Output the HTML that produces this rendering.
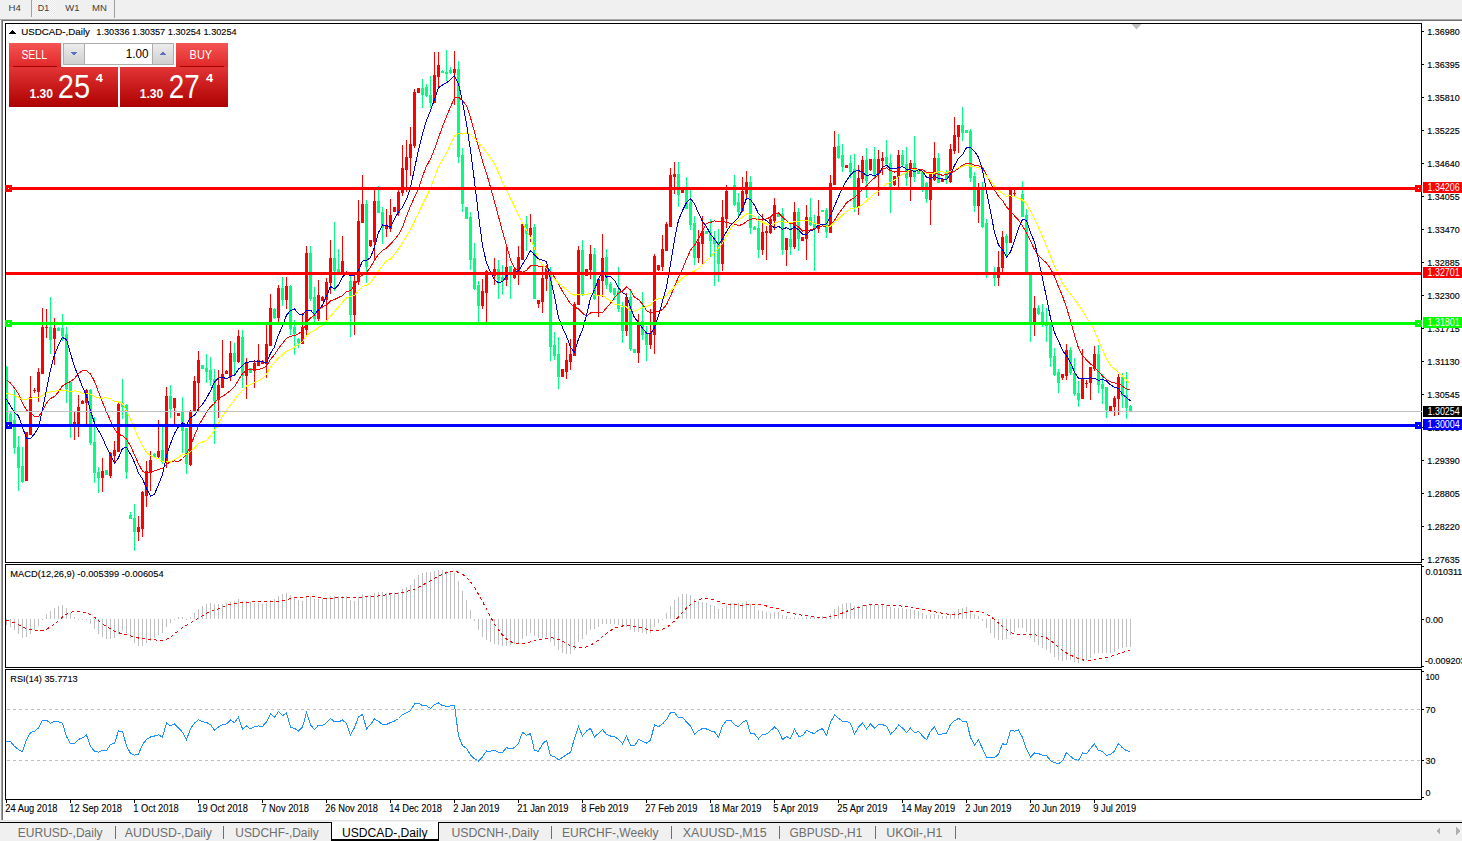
<!DOCTYPE html>
<html><head><meta charset="utf-8"><style>
html,body{margin:0;padding:0;background:#fff;width:1462px;height:841px;overflow:hidden}
svg{display:block}
text{font-family:"Liberation Sans",sans-serif}
</style></head><body>
<svg width="1462" height="841" viewBox="0 0 1462 841" shape-rendering="crispEdges">
<defs>
<clipPath id="clipmain"><rect x="6" y="24" width="1415" height="538"/></clipPath>
<clipPath id="clipmacd"><rect x="6" y="565" width="1415" height="102"/></clipPath>
<clipPath id="cliprsi"><rect x="6" y="670" width="1415" height="129"/></clipPath>
<pattern id="chk" width="2" height="2" patternUnits="userSpaceOnUse"><rect width="2" height="2" fill="#fafafa"/><rect width="1" height="1" fill="#e8e8e8"/><rect x="1" y="1" width="1" height="1" fill="#e8e8e8"/></pattern>
<linearGradient id="gsell" x1="0" y1="0" x2="0" y2="1"><stop offset="0" stop-color="#f65454"/><stop offset="1" stop-color="#e02828"/></linearGradient>
<linearGradient id="gbig" x1="0" y1="0" x2="0" y2="1"><stop offset="0" stop-color="#e33535"/><stop offset="1" stop-color="#ad0000"/></linearGradient>
<linearGradient id="gbtn" x1="0" y1="0" x2="0" y2="1"><stop offset="0" stop-color="#ececec"/><stop offset="1" stop-color="#cfcfcf"/></linearGradient>
</defs>
<rect x="0" y="0" width="1462" height="19" fill="#f0f0f0"/>
<rect x="32" y="0" width="24" height="17" fill="url(#chk)"/>
<rect x="31" y="0" width="1" height="17" fill="#a0a0a0"/>
<rect x="114" y="0" width="1" height="18" fill="#a0a0a0"/>
<text x="8.6" y="10.9" style="font-size:9.6px;fill:#3c3c3c" textLength="12.30" lengthAdjust="spacingAndGlyphs" >H4</text>
<text x="37.7" y="10.9" style="font-size:9.6px;fill:#3c3c3c" textLength="11.40" lengthAdjust="spacingAndGlyphs" >D1</text>
<text x="65.3" y="10.9" style="font-size:9.6px;fill:#3c3c3c" textLength="14.20" lengthAdjust="spacingAndGlyphs" >W1</text>
<text x="92" y="10.9" style="font-size:9.6px;fill:#3c3c3c" textLength="14.80" lengthAdjust="spacingAndGlyphs" >MN</text>
<rect x="0" y="19" width="1462" height="1" fill="#a8a8a8"/>
<rect x="0" y="20" width="1462" height="1" fill="#707070"/>
<rect x="0" y="20" width="1" height="801" fill="#f4f4f4"/>
<rect x="1" y="20" width="1" height="801" fill="#a0a0a0"/>
<rect x="2" y="20" width="1" height="801" fill="#6e6e6e"/>
<rect x="5.5" y="23.5" width="1416" height="539" fill="none" stroke="#000" stroke-width="1"/>
<rect x="5.5" y="564.5" width="1416" height="103" fill="none" stroke="#000" stroke-width="1"/>
<rect x="5.5" y="669.5" width="1416" height="130" fill="none" stroke="#000" stroke-width="1"/>
<rect x="1422" y="31" width="2" height="1" fill="#000"/>
<text x="1427.3" y="35" style="font-size:9.4px;fill:#000;stroke:#000;stroke-width:0.15px" textLength="32.40" lengthAdjust="spacingAndGlyphs" >1.36980</text>
<rect x="1422" y="64" width="2" height="1" fill="#000"/>
<text x="1427.3" y="68" style="font-size:9.4px;fill:#000;stroke:#000;stroke-width:0.15px" textLength="32.40" lengthAdjust="spacingAndGlyphs" >1.36395</text>
<rect x="1422" y="97" width="2" height="1" fill="#000"/>
<text x="1427.3" y="101" style="font-size:9.4px;fill:#000;stroke:#000;stroke-width:0.15px" textLength="32.40" lengthAdjust="spacingAndGlyphs" >1.35810</text>
<rect x="1422" y="130" width="2" height="1" fill="#000"/>
<text x="1427.3" y="134" style="font-size:9.4px;fill:#000;stroke:#000;stroke-width:0.15px" textLength="32.40" lengthAdjust="spacingAndGlyphs" >1.35225</text>
<rect x="1422" y="163" width="2" height="1" fill="#000"/>
<text x="1427.3" y="167" style="font-size:9.4px;fill:#000;stroke:#000;stroke-width:0.15px" textLength="32.40" lengthAdjust="spacingAndGlyphs" >1.34640</text>
<rect x="1422" y="196" width="2" height="1" fill="#000"/>
<text x="1427.3" y="200" style="font-size:9.4px;fill:#000;stroke:#000;stroke-width:0.15px" textLength="32.40" lengthAdjust="spacingAndGlyphs" >1.34055</text>
<rect x="1422" y="229" width="2" height="1" fill="#000"/>
<text x="1427.3" y="233" style="font-size:9.4px;fill:#000;stroke:#000;stroke-width:0.15px" textLength="32.40" lengthAdjust="spacingAndGlyphs" >1.33470</text>
<rect x="1422" y="262" width="2" height="1" fill="#000"/>
<text x="1427.3" y="266" style="font-size:9.4px;fill:#000;stroke:#000;stroke-width:0.15px" textLength="32.40" lengthAdjust="spacingAndGlyphs" >1.32885</text>
<rect x="1422" y="295" width="2" height="1" fill="#000"/>
<text x="1427.3" y="299" style="font-size:9.4px;fill:#000;stroke:#000;stroke-width:0.15px" textLength="32.40" lengthAdjust="spacingAndGlyphs" >1.32300</text>
<rect x="1422" y="328" width="2" height="1" fill="#000"/>
<text x="1427.3" y="332" style="font-size:9.4px;fill:#000;stroke:#000;stroke-width:0.15px" textLength="32.40" lengthAdjust="spacingAndGlyphs" >1.31715</text>
<rect x="1422" y="361" width="2" height="1" fill="#000"/>
<text x="1427.3" y="365" style="font-size:9.4px;fill:#000;stroke:#000;stroke-width:0.15px" textLength="32.40" lengthAdjust="spacingAndGlyphs" >1.31130</text>
<rect x="1422" y="394" width="2" height="1" fill="#000"/>
<text x="1427.3" y="398" style="font-size:9.4px;fill:#000;stroke:#000;stroke-width:0.15px" textLength="32.40" lengthAdjust="spacingAndGlyphs" >1.30545</text>
<rect x="1422" y="427" width="2" height="1" fill="#000"/>
<text x="1427.3" y="431" style="font-size:9.4px;fill:#000;stroke:#000;stroke-width:0.15px" textLength="32.40" lengthAdjust="spacingAndGlyphs" >1.29960</text>
<rect x="1422" y="460" width="2" height="1" fill="#000"/>
<text x="1427.3" y="464" style="font-size:9.4px;fill:#000;stroke:#000;stroke-width:0.15px" textLength="32.40" lengthAdjust="spacingAndGlyphs" >1.29390</text>
<rect x="1422" y="493" width="2" height="1" fill="#000"/>
<text x="1427.3" y="497" style="font-size:9.4px;fill:#000;stroke:#000;stroke-width:0.15px" textLength="32.40" lengthAdjust="spacingAndGlyphs" >1.28805</text>
<rect x="1422" y="526" width="2" height="1" fill="#000"/>
<text x="1427.3" y="530" style="font-size:9.4px;fill:#000;stroke:#000;stroke-width:0.15px" textLength="32.40" lengthAdjust="spacingAndGlyphs" >1.28220</text>
<rect x="1422" y="559" width="2" height="1" fill="#000"/>
<text x="1427.3" y="563" style="font-size:9.4px;fill:#000;stroke:#000;stroke-width:0.15px" textLength="32.40" lengthAdjust="spacingAndGlyphs" >1.27635</text>
<g clip-path="url(#clipmain)">
<rect x="6" y="366" width="1" height="56" fill="#00ff7f"/>
<rect x="5" y="367" width="3" height="54" fill="#00ff7f"/>
<rect x="10" y="412" width="1" height="12" fill="#00ff7f"/>
<rect x="9" y="414" width="3" height="8" fill="#00ff7f"/>
<rect x="14" y="390" width="1" height="64" fill="#00ff7f"/>
<rect x="13" y="420" width="3" height="28" fill="#00ff7f"/>
<rect x="18" y="436" width="1" height="55" fill="#00ff7f"/>
<rect x="17" y="447" width="3" height="21" fill="#00ff7f"/>
<rect x="22" y="447" width="1" height="36" fill="#00ff7f"/>
<rect x="21" y="466" width="3" height="16" fill="#00ff7f"/>
<rect x="26" y="432" width="1" height="49" fill="#ff0000"/>
<rect x="25" y="432" width="3" height="49" fill="#ff0000"/>
<rect x="30" y="376" width="1" height="59" fill="#ff0000"/>
<rect x="29" y="397" width="3" height="38" fill="#ff0000"/>
<rect x="34" y="388" width="1" height="5" fill="#ff0000"/>
<rect x="33" y="390" width="3" height="1" fill="#ff0000"/>
<rect x="38" y="368" width="1" height="34" fill="#ff0000"/>
<rect x="37" y="372" width="3" height="20" fill="#ff0000"/>
<rect x="42" y="308" width="1" height="66" fill="#ff0000"/>
<rect x="41" y="327" width="3" height="47" fill="#ff0000"/>
<rect x="46" y="309" width="1" height="29" fill="#ff0000"/>
<rect x="45" y="327" width="3" height="1" fill="#ff0000"/>
<rect x="50" y="297" width="1" height="57" fill="#00ff7f"/>
<rect x="49" y="327" width="3" height="13" fill="#00ff7f"/>
<rect x="54" y="318" width="1" height="47" fill="#ff0000"/>
<rect x="53" y="328" width="3" height="11" fill="#ff0000"/>
<rect x="58" y="327" width="1" height="4" fill="#00ff7f"/>
<rect x="57" y="328" width="3" height="3" fill="#00ff7f"/>
<rect x="62" y="314" width="1" height="27" fill="#00ff7f"/>
<rect x="61" y="328" width="3" height="8" fill="#00ff7f"/>
<rect x="66" y="327" width="1" height="76" fill="#00ff7f"/>
<rect x="65" y="334" width="3" height="55" fill="#00ff7f"/>
<rect x="70" y="382" width="1" height="56" fill="#00ff7f"/>
<rect x="69" y="382" width="3" height="42" fill="#00ff7f"/>
<rect x="74" y="411" width="1" height="29" fill="#ff0000"/>
<rect x="73" y="422" width="3" height="3" fill="#ff0000"/>
<rect x="78" y="395" width="1" height="42" fill="#ff0000"/>
<rect x="77" y="407" width="3" height="17" fill="#ff0000"/>
<rect x="82" y="400" width="1" height="4" fill="#ff0000"/>
<rect x="81" y="401" width="3" height="3" fill="#ff0000"/>
<rect x="86" y="389" width="1" height="35" fill="#ff0000"/>
<rect x="85" y="390" width="3" height="13" fill="#ff0000"/>
<rect x="90" y="389" width="1" height="56" fill="#00ff7f"/>
<rect x="89" y="390" width="3" height="53" fill="#00ff7f"/>
<rect x="94" y="417" width="1" height="66" fill="#00ff7f"/>
<rect x="93" y="442" width="3" height="31" fill="#00ff7f"/>
<rect x="98" y="467" width="1" height="26" fill="#00ff7f"/>
<rect x="97" y="472" width="3" height="6" fill="#00ff7f"/>
<rect x="102" y="458" width="1" height="34" fill="#ff0000"/>
<rect x="101" y="471" width="3" height="7" fill="#ff0000"/>
<rect x="106" y="470" width="1" height="5" fill="#00ff7f"/>
<rect x="105" y="470" width="3" height="5" fill="#00ff7f"/>
<rect x="110" y="452" width="1" height="26" fill="#ff0000"/>
<rect x="109" y="453" width="3" height="23" fill="#ff0000"/>
<rect x="114" y="441" width="1" height="23" fill="#ff0000"/>
<rect x="113" y="450" width="3" height="6" fill="#ff0000"/>
<rect x="118" y="403" width="1" height="49" fill="#ff0000"/>
<rect x="117" y="404" width="3" height="48" fill="#ff0000"/>
<rect x="122" y="379" width="1" height="40" fill="#00ff7f"/>
<rect x="121" y="403" width="3" height="4" fill="#00ff7f"/>
<rect x="126" y="404" width="1" height="75" fill="#00ff7f"/>
<rect x="125" y="405" width="3" height="67" fill="#00ff7f"/>
<rect x="130" y="512" width="1" height="7" fill="#00ff7f"/>
<rect x="129" y="515" width="3" height="4" fill="#00ff7f"/>
<rect x="134" y="504" width="1" height="47" fill="#00ff7f"/>
<rect x="133" y="518" width="3" height="14" fill="#00ff7f"/>
<rect x="138" y="516" width="1" height="25" fill="#ff0000"/>
<rect x="137" y="527" width="3" height="5" fill="#ff0000"/>
<rect x="142" y="491" width="1" height="46" fill="#ff0000"/>
<rect x="141" y="492" width="3" height="37" fill="#ff0000"/>
<rect x="146" y="461" width="1" height="46" fill="#ff0000"/>
<rect x="145" y="471" width="3" height="25" fill="#ff0000"/>
<rect x="150" y="451" width="1" height="40" fill="#ff0000"/>
<rect x="149" y="460" width="3" height="13" fill="#ff0000"/>
<rect x="154" y="453" width="1" height="4" fill="#00ff7f"/>
<rect x="153" y="454" width="3" height="3" fill="#00ff7f"/>
<rect x="158" y="420" width="1" height="39" fill="#ff0000"/>
<rect x="157" y="451" width="3" height="6" fill="#ff0000"/>
<rect x="162" y="427" width="1" height="37" fill="#00ff7f"/>
<rect x="161" y="450" width="3" height="12" fill="#00ff7f"/>
<rect x="166" y="387" width="1" height="81" fill="#ff0000"/>
<rect x="165" y="396" width="3" height="66" fill="#ff0000"/>
<rect x="170" y="385" width="1" height="33" fill="#00ff7f"/>
<rect x="169" y="396" width="3" height="13" fill="#00ff7f"/>
<rect x="174" y="398" width="1" height="26" fill="#ff0000"/>
<rect x="173" y="398" width="3" height="10" fill="#ff0000"/>
<rect x="178" y="413" width="1" height="3" fill="#ff0000"/>
<rect x="177" y="413" width="3" height="3" fill="#ff0000"/>
<rect x="182" y="397" width="1" height="56" fill="#00ff7f"/>
<rect x="181" y="412" width="3" height="19" fill="#00ff7f"/>
<rect x="186" y="428" width="1" height="46" fill="#00ff7f"/>
<rect x="185" y="428" width="3" height="36" fill="#00ff7f"/>
<rect x="190" y="410" width="1" height="56" fill="#ff0000"/>
<rect x="189" y="411" width="3" height="54" fill="#ff0000"/>
<rect x="194" y="376" width="1" height="36" fill="#ff0000"/>
<rect x="193" y="381" width="3" height="30" fill="#ff0000"/>
<rect x="198" y="351" width="1" height="60" fill="#ff0000"/>
<rect x="197" y="360" width="3" height="23" fill="#ff0000"/>
<rect x="202" y="365" width="1" height="4" fill="#00ff7f"/>
<rect x="201" y="365" width="3" height="4" fill="#00ff7f"/>
<rect x="206" y="354" width="1" height="29" fill="#00ff7f"/>
<rect x="205" y="368" width="3" height="4" fill="#00ff7f"/>
<rect x="210" y="357" width="1" height="29" fill="#00ff7f"/>
<rect x="209" y="370" width="3" height="10" fill="#00ff7f"/>
<rect x="214" y="369" width="1" height="75" fill="#00ff7f"/>
<rect x="213" y="379" width="3" height="22" fill="#00ff7f"/>
<rect x="218" y="370" width="1" height="48" fill="#ff0000"/>
<rect x="217" y="385" width="3" height="15" fill="#ff0000"/>
<rect x="222" y="340" width="1" height="48" fill="#ff0000"/>
<rect x="221" y="374" width="3" height="14" fill="#ff0000"/>
<rect x="226" y="370" width="1" height="4" fill="#ff0000"/>
<rect x="225" y="371" width="3" height="3" fill="#ff0000"/>
<rect x="230" y="341" width="1" height="40" fill="#ff0000"/>
<rect x="229" y="353" width="3" height="24" fill="#ff0000"/>
<rect x="234" y="343" width="1" height="31" fill="#00ff7f"/>
<rect x="233" y="353" width="3" height="9" fill="#00ff7f"/>
<rect x="238" y="330" width="1" height="33" fill="#ff0000"/>
<rect x="237" y="336" width="3" height="26" fill="#ff0000"/>
<rect x="242" y="330" width="1" height="58" fill="#00ff7f"/>
<rect x="241" y="337" width="3" height="39" fill="#00ff7f"/>
<rect x="246" y="358" width="1" height="41" fill="#ff0000"/>
<rect x="245" y="362" width="3" height="14" fill="#ff0000"/>
<rect x="250" y="368" width="1" height="5" fill="#00ff7f"/>
<rect x="249" y="368" width="3" height="5" fill="#00ff7f"/>
<rect x="254" y="360" width="1" height="28" fill="#ff0000"/>
<rect x="253" y="363" width="3" height="8" fill="#ff0000"/>
<rect x="258" y="344" width="1" height="22" fill="#ff0000"/>
<rect x="257" y="360" width="3" height="6" fill="#ff0000"/>
<rect x="262" y="360" width="1" height="4" fill="#ff0000"/>
<rect x="261" y="361" width="3" height="3" fill="#ff0000"/>
<rect x="266" y="325" width="1" height="53" fill="#ff0000"/>
<rect x="265" y="344" width="3" height="20" fill="#ff0000"/>
<rect x="270" y="294" width="1" height="52" fill="#ff0000"/>
<rect x="269" y="308" width="3" height="38" fill="#ff0000"/>
<rect x="274" y="308" width="1" height="11" fill="#00ff7f"/>
<rect x="273" y="309" width="3" height="9" fill="#00ff7f"/>
<rect x="278" y="285" width="1" height="38" fill="#ff0000"/>
<rect x="277" y="288" width="3" height="30" fill="#ff0000"/>
<rect x="282" y="277" width="1" height="29" fill="#00ff7f"/>
<rect x="281" y="288" width="3" height="12" fill="#00ff7f"/>
<rect x="286" y="277" width="1" height="32" fill="#ff0000"/>
<rect x="285" y="286" width="3" height="14" fill="#ff0000"/>
<rect x="290" y="285" width="1" height="50" fill="#00ff7f"/>
<rect x="289" y="286" width="3" height="43" fill="#00ff7f"/>
<rect x="294" y="320" width="1" height="35" fill="#00ff7f"/>
<rect x="293" y="327" width="3" height="7" fill="#00ff7f"/>
<rect x="298" y="338" width="1" height="10" fill="#00ff7f"/>
<rect x="297" y="339" width="3" height="4" fill="#00ff7f"/>
<rect x="302" y="313" width="1" height="31" fill="#ff0000"/>
<rect x="301" y="327" width="3" height="17" fill="#ff0000"/>
<rect x="306" y="246" width="1" height="89" fill="#ff0000"/>
<rect x="305" y="253" width="3" height="77" fill="#ff0000"/>
<rect x="310" y="246" width="1" height="55" fill="#00ff7f"/>
<rect x="309" y="253" width="3" height="46" fill="#00ff7f"/>
<rect x="314" y="287" width="1" height="35" fill="#00ff7f"/>
<rect x="313" y="297" width="3" height="22" fill="#00ff7f"/>
<rect x="318" y="280" width="1" height="41" fill="#ff0000"/>
<rect x="317" y="295" width="3" height="24" fill="#ff0000"/>
<rect x="322" y="296" width="1" height="5" fill="#ff0000"/>
<rect x="321" y="297" width="3" height="4" fill="#ff0000"/>
<rect x="326" y="278" width="1" height="42" fill="#ff0000"/>
<rect x="325" y="282" width="3" height="18" fill="#ff0000"/>
<rect x="330" y="240" width="1" height="54" fill="#ff0000"/>
<rect x="329" y="258" width="3" height="25" fill="#ff0000"/>
<rect x="334" y="222" width="1" height="69" fill="#00ff7f"/>
<rect x="333" y="258" width="3" height="13" fill="#00ff7f"/>
<rect x="338" y="249" width="1" height="24" fill="#00ff7f"/>
<rect x="337" y="269" width="3" height="3" fill="#00ff7f"/>
<rect x="342" y="236" width="1" height="37" fill="#ff0000"/>
<rect x="341" y="261" width="3" height="11" fill="#ff0000"/>
<rect x="346" y="271" width="1" height="3" fill="#ff0000"/>
<rect x="345" y="272" width="3" height="2" fill="#ff0000"/>
<rect x="350" y="275" width="1" height="62" fill="#00ff7f"/>
<rect x="349" y="281" width="3" height="34" fill="#00ff7f"/>
<rect x="354" y="276" width="1" height="59" fill="#ff0000"/>
<rect x="353" y="281" width="3" height="34" fill="#ff0000"/>
<rect x="358" y="200" width="1" height="85" fill="#ff0000"/>
<rect x="357" y="221" width="3" height="61" fill="#ff0000"/>
<rect x="362" y="175" width="1" height="48" fill="#ff0000"/>
<rect x="361" y="204" width="3" height="19" fill="#ff0000"/>
<rect x="366" y="200" width="1" height="83" fill="#00ff7f"/>
<rect x="365" y="204" width="3" height="63" fill="#00ff7f"/>
<rect x="370" y="240" width="1" height="7" fill="#ff0000"/>
<rect x="369" y="240" width="3" height="6" fill="#ff0000"/>
<rect x="374" y="190" width="1" height="69" fill="#ff0000"/>
<rect x="373" y="201" width="3" height="41" fill="#ff0000"/>
<rect x="378" y="186" width="1" height="27" fill="#00ff7f"/>
<rect x="377" y="201" width="3" height="12" fill="#00ff7f"/>
<rect x="382" y="207" width="1" height="37" fill="#00ff7f"/>
<rect x="381" y="212" width="3" height="16" fill="#00ff7f"/>
<rect x="386" y="209" width="1" height="28" fill="#ff0000"/>
<rect x="385" y="226" width="3" height="3" fill="#ff0000"/>
<rect x="390" y="199" width="1" height="33" fill="#ff0000"/>
<rect x="389" y="215" width="3" height="14" fill="#ff0000"/>
<rect x="394" y="207" width="1" height="5" fill="#ff0000"/>
<rect x="393" y="207" width="3" height="5" fill="#ff0000"/>
<rect x="398" y="190" width="1" height="26" fill="#ff0000"/>
<rect x="397" y="192" width="3" height="21" fill="#ff0000"/>
<rect x="402" y="145" width="1" height="51" fill="#ff0000"/>
<rect x="401" y="168" width="3" height="25" fill="#ff0000"/>
<rect x="406" y="140" width="1" height="52" fill="#ff0000"/>
<rect x="405" y="157" width="3" height="13" fill="#ff0000"/>
<rect x="410" y="127" width="1" height="49" fill="#ff0000"/>
<rect x="409" y="144" width="3" height="14" fill="#ff0000"/>
<rect x="414" y="89" width="1" height="59" fill="#ff0000"/>
<rect x="413" y="92" width="3" height="54" fill="#ff0000"/>
<rect x="418" y="88" width="1" height="5" fill="#ff0000"/>
<rect x="417" y="88" width="3" height="5" fill="#ff0000"/>
<rect x="422" y="79" width="1" height="29" fill="#00ff7f"/>
<rect x="421" y="88" width="3" height="7" fill="#00ff7f"/>
<rect x="426" y="84" width="1" height="13" fill="#00ff7f"/>
<rect x="425" y="87" width="3" height="9" fill="#00ff7f"/>
<rect x="430" y="76" width="1" height="32" fill="#00ff7f"/>
<rect x="429" y="95" width="3" height="8" fill="#00ff7f"/>
<rect x="434" y="52" width="1" height="51" fill="#ff0000"/>
<rect x="433" y="75" width="3" height="28" fill="#ff0000"/>
<rect x="438" y="52" width="1" height="36" fill="#ff0000"/>
<rect x="437" y="65" width="3" height="12" fill="#ff0000"/>
<rect x="442" y="70" width="1" height="3" fill="#00ff7f"/>
<rect x="441" y="71" width="3" height="2" fill="#00ff7f"/>
<rect x="446" y="50" width="1" height="31" fill="#00ff7f"/>
<rect x="445" y="72" width="3" height="2" fill="#00ff7f"/>
<rect x="450" y="67" width="1" height="7" fill="#00ff7f"/>
<rect x="449" y="70" width="3" height="3" fill="#00ff7f"/>
<rect x="454" y="51" width="1" height="54" fill="#ff0000"/>
<rect x="453" y="69" width="3" height="4" fill="#ff0000"/>
<rect x="458" y="61" width="1" height="102" fill="#00ff7f"/>
<rect x="457" y="69" width="3" height="88" fill="#00ff7f"/>
<rect x="462" y="148" width="1" height="64" fill="#00ff7f"/>
<rect x="461" y="155" width="3" height="49" fill="#00ff7f"/>
<rect x="466" y="207" width="1" height="12" fill="#00ff7f"/>
<rect x="465" y="207" width="3" height="12" fill="#00ff7f"/>
<rect x="470" y="212" width="1" height="58" fill="#00ff7f"/>
<rect x="469" y="217" width="3" height="43" fill="#00ff7f"/>
<rect x="474" y="243" width="1" height="47" fill="#00ff7f"/>
<rect x="473" y="258" width="3" height="31" fill="#00ff7f"/>
<rect x="478" y="281" width="1" height="42" fill="#00ff7f"/>
<rect x="477" y="285" width="3" height="21" fill="#00ff7f"/>
<rect x="482" y="279" width="1" height="30" fill="#ff0000"/>
<rect x="481" y="291" width="3" height="15" fill="#ff0000"/>
<rect x="486" y="270" width="1" height="53" fill="#ff0000"/>
<rect x="485" y="271" width="3" height="22" fill="#ff0000"/>
<rect x="490" y="272" width="1" height="2" fill="#ff0000"/>
<rect x="489" y="272" width="3" height="2" fill="#ff0000"/>
<rect x="494" y="258" width="1" height="27" fill="#ff0000"/>
<rect x="493" y="269" width="3" height="7" fill="#ff0000"/>
<rect x="498" y="260" width="1" height="39" fill="#00ff7f"/>
<rect x="497" y="269" width="3" height="11" fill="#00ff7f"/>
<rect x="502" y="265" width="1" height="30" fill="#00ff7f"/>
<rect x="501" y="277" width="3" height="4" fill="#00ff7f"/>
<rect x="506" y="247" width="1" height="39" fill="#ff0000"/>
<rect x="505" y="267" width="3" height="13" fill="#ff0000"/>
<rect x="510" y="266" width="1" height="33" fill="#00ff7f"/>
<rect x="509" y="266" width="3" height="7" fill="#00ff7f"/>
<rect x="514" y="268" width="1" height="11" fill="#ff0000"/>
<rect x="513" y="269" width="3" height="9" fill="#ff0000"/>
<rect x="518" y="246" width="1" height="39" fill="#ff0000"/>
<rect x="517" y="257" width="3" height="16" fill="#ff0000"/>
<rect x="522" y="224" width="1" height="36" fill="#ff0000"/>
<rect x="521" y="224" width="3" height="36" fill="#ff0000"/>
<rect x="526" y="216" width="1" height="35" fill="#00ff7f"/>
<rect x="525" y="224" width="3" height="10" fill="#00ff7f"/>
<rect x="530" y="214" width="1" height="28" fill="#ff0000"/>
<rect x="529" y="228" width="3" height="7" fill="#ff0000"/>
<rect x="534" y="224" width="1" height="75" fill="#00ff7f"/>
<rect x="533" y="227" width="3" height="72" fill="#00ff7f"/>
<rect x="538" y="300" width="1" height="8" fill="#ff0000"/>
<rect x="537" y="300" width="3" height="4" fill="#ff0000"/>
<rect x="542" y="266" width="1" height="47" fill="#ff0000"/>
<rect x="541" y="278" width="3" height="24" fill="#ff0000"/>
<rect x="546" y="265" width="1" height="26" fill="#ff0000"/>
<rect x="545" y="266" width="3" height="13" fill="#ff0000"/>
<rect x="550" y="267" width="1" height="94" fill="#00ff7f"/>
<rect x="549" y="277" width="3" height="70" fill="#00ff7f"/>
<rect x="554" y="332" width="1" height="28" fill="#00ff7f"/>
<rect x="553" y="345" width="3" height="11" fill="#00ff7f"/>
<rect x="558" y="337" width="1" height="52" fill="#00ff7f"/>
<rect x="557" y="354" width="3" height="23" fill="#00ff7f"/>
<rect x="562" y="369" width="1" height="8" fill="#ff0000"/>
<rect x="561" y="369" width="3" height="8" fill="#ff0000"/>
<rect x="566" y="343" width="1" height="36" fill="#ff0000"/>
<rect x="565" y="360" width="3" height="12" fill="#ff0000"/>
<rect x="570" y="339" width="1" height="31" fill="#ff0000"/>
<rect x="569" y="354" width="3" height="8" fill="#ff0000"/>
<rect x="574" y="302" width="1" height="54" fill="#ff0000"/>
<rect x="573" y="304" width="3" height="52" fill="#ff0000"/>
<rect x="578" y="246" width="1" height="59" fill="#ff0000"/>
<rect x="577" y="250" width="3" height="55" fill="#ff0000"/>
<rect x="582" y="240" width="1" height="56" fill="#00ff7f"/>
<rect x="581" y="250" width="3" height="45" fill="#00ff7f"/>
<rect x="586" y="269" width="1" height="7" fill="#ff0000"/>
<rect x="585" y="269" width="3" height="7" fill="#ff0000"/>
<rect x="590" y="245" width="1" height="34" fill="#ff0000"/>
<rect x="589" y="254" width="3" height="16" fill="#ff0000"/>
<rect x="594" y="248" width="1" height="52" fill="#00ff7f"/>
<rect x="593" y="254" width="3" height="45" fill="#00ff7f"/>
<rect x="598" y="278" width="1" height="39" fill="#ff0000"/>
<rect x="597" y="279" width="3" height="17" fill="#ff0000"/>
<rect x="602" y="234" width="1" height="63" fill="#ff0000"/>
<rect x="601" y="258" width="3" height="23" fill="#ff0000"/>
<rect x="606" y="249" width="1" height="40" fill="#00ff7f"/>
<rect x="605" y="257" width="3" height="28" fill="#00ff7f"/>
<rect x="610" y="282" width="1" height="11" fill="#00ff7f"/>
<rect x="609" y="284" width="3" height="8" fill="#00ff7f"/>
<rect x="614" y="288" width="1" height="12" fill="#00ff7f"/>
<rect x="613" y="288" width="3" height="7" fill="#00ff7f"/>
<rect x="618" y="267" width="1" height="45" fill="#00ff7f"/>
<rect x="617" y="291" width="3" height="18" fill="#00ff7f"/>
<rect x="622" y="302" width="1" height="41" fill="#00ff7f"/>
<rect x="621" y="307" width="3" height="24" fill="#00ff7f"/>
<rect x="626" y="293" width="1" height="43" fill="#ff0000"/>
<rect x="625" y="297" width="3" height="34" fill="#ff0000"/>
<rect x="630" y="289" width="1" height="62" fill="#00ff7f"/>
<rect x="629" y="297" width="3" height="52" fill="#00ff7f"/>
<rect x="634" y="349" width="1" height="4" fill="#00ff7f"/>
<rect x="633" y="349" width="3" height="4" fill="#00ff7f"/>
<rect x="638" y="314" width="1" height="49" fill="#ff0000"/>
<rect x="637" y="324" width="3" height="29" fill="#ff0000"/>
<rect x="642" y="292" width="1" height="48" fill="#00ff7f"/>
<rect x="641" y="321" width="3" height="14" fill="#00ff7f"/>
<rect x="646" y="326" width="1" height="35" fill="#00ff7f"/>
<rect x="645" y="333" width="3" height="12" fill="#00ff7f"/>
<rect x="650" y="309" width="1" height="40" fill="#ff0000"/>
<rect x="649" y="333" width="3" height="12" fill="#ff0000"/>
<rect x="654" y="254" width="1" height="100" fill="#ff0000"/>
<rect x="653" y="256" width="3" height="79" fill="#ff0000"/>
<rect x="658" y="265" width="1" height="6" fill="#ff0000"/>
<rect x="657" y="265" width="3" height="5" fill="#ff0000"/>
<rect x="662" y="235" width="1" height="36" fill="#ff0000"/>
<rect x="661" y="249" width="3" height="18" fill="#ff0000"/>
<rect x="666" y="222" width="1" height="29" fill="#ff0000"/>
<rect x="665" y="224" width="3" height="27" fill="#ff0000"/>
<rect x="670" y="168" width="1" height="59" fill="#ff0000"/>
<rect x="669" y="175" width="3" height="52" fill="#ff0000"/>
<rect x="674" y="162" width="1" height="32" fill="#ff0000"/>
<rect x="673" y="174" width="3" height="3" fill="#ff0000"/>
<rect x="678" y="162" width="1" height="45" fill="#00ff7f"/>
<rect x="677" y="174" width="3" height="21" fill="#00ff7f"/>
<rect x="682" y="190" width="1" height="3" fill="#ff0000"/>
<rect x="681" y="190" width="3" height="3" fill="#ff0000"/>
<rect x="686" y="177" width="1" height="32" fill="#00ff7f"/>
<rect x="685" y="189" width="3" height="20" fill="#00ff7f"/>
<rect x="690" y="190" width="1" height="40" fill="#00ff7f"/>
<rect x="689" y="202" width="3" height="23" fill="#00ff7f"/>
<rect x="694" y="216" width="1" height="49" fill="#00ff7f"/>
<rect x="693" y="223" width="3" height="35" fill="#00ff7f"/>
<rect x="698" y="230" width="1" height="33" fill="#ff0000"/>
<rect x="697" y="242" width="3" height="16" fill="#ff0000"/>
<rect x="702" y="216" width="1" height="48" fill="#ff0000"/>
<rect x="701" y="231" width="3" height="13" fill="#ff0000"/>
<rect x="706" y="231" width="1" height="3" fill="#00ff7f"/>
<rect x="705" y="231" width="3" height="3" fill="#00ff7f"/>
<rect x="710" y="219" width="1" height="38" fill="#00ff7f"/>
<rect x="709" y="232" width="3" height="9" fill="#00ff7f"/>
<rect x="714" y="231" width="1" height="55" fill="#00ff7f"/>
<rect x="713" y="238" width="3" height="6" fill="#00ff7f"/>
<rect x="718" y="229" width="1" height="53" fill="#00ff7f"/>
<rect x="717" y="243" width="3" height="21" fill="#00ff7f"/>
<rect x="722" y="200" width="1" height="71" fill="#ff0000"/>
<rect x="721" y="217" width="3" height="47" fill="#ff0000"/>
<rect x="726" y="185" width="1" height="43" fill="#ff0000"/>
<rect x="725" y="191" width="3" height="28" fill="#ff0000"/>
<rect x="730" y="187" width="1" height="3" fill="#ff0000"/>
<rect x="729" y="188" width="3" height="2" fill="#ff0000"/>
<rect x="734" y="175" width="1" height="31" fill="#00ff7f"/>
<rect x="733" y="185" width="3" height="20" fill="#00ff7f"/>
<rect x="738" y="193" width="1" height="23" fill="#00ff7f"/>
<rect x="737" y="202" width="3" height="10" fill="#00ff7f"/>
<rect x="742" y="177" width="1" height="35" fill="#ff0000"/>
<rect x="741" y="191" width="3" height="20" fill="#ff0000"/>
<rect x="746" y="171" width="1" height="29" fill="#ff0000"/>
<rect x="745" y="182" width="3" height="12" fill="#ff0000"/>
<rect x="750" y="176" width="1" height="58" fill="#00ff7f"/>
<rect x="749" y="182" width="3" height="46" fill="#00ff7f"/>
<rect x="754" y="226" width="1" height="4" fill="#00ff7f"/>
<rect x="753" y="227" width="3" height="3" fill="#00ff7f"/>
<rect x="758" y="216" width="1" height="42" fill="#00ff7f"/>
<rect x="757" y="228" width="3" height="22" fill="#00ff7f"/>
<rect x="762" y="214" width="1" height="41" fill="#ff0000"/>
<rect x="761" y="232" width="3" height="18" fill="#ff0000"/>
<rect x="766" y="226" width="1" height="34" fill="#ff0000"/>
<rect x="765" y="231" width="3" height="2" fill="#ff0000"/>
<rect x="770" y="216" width="1" height="18" fill="#ff0000"/>
<rect x="769" y="219" width="3" height="14" fill="#ff0000"/>
<rect x="774" y="198" width="1" height="32" fill="#ff0000"/>
<rect x="773" y="205" width="3" height="16" fill="#ff0000"/>
<rect x="778" y="213" width="1" height="4" fill="#00ff7f"/>
<rect x="777" y="214" width="3" height="3" fill="#00ff7f"/>
<rect x="782" y="208" width="1" height="47" fill="#00ff7f"/>
<rect x="781" y="214" width="3" height="36" fill="#00ff7f"/>
<rect x="786" y="238" width="1" height="28" fill="#ff0000"/>
<rect x="785" y="238" width="3" height="12" fill="#ff0000"/>
<rect x="790" y="224" width="1" height="31" fill="#00ff7f"/>
<rect x="789" y="239" width="3" height="8" fill="#00ff7f"/>
<rect x="794" y="202" width="1" height="47" fill="#ff0000"/>
<rect x="793" y="212" width="3" height="35" fill="#ff0000"/>
<rect x="798" y="208" width="1" height="43" fill="#00ff7f"/>
<rect x="797" y="212" width="3" height="27" fill="#00ff7f"/>
<rect x="802" y="237" width="1" height="4" fill="#ff0000"/>
<rect x="801" y="237" width="3" height="4" fill="#ff0000"/>
<rect x="806" y="205" width="1" height="55" fill="#ff0000"/>
<rect x="805" y="217" width="3" height="22" fill="#ff0000"/>
<rect x="810" y="198" width="1" height="28" fill="#00ff7f"/>
<rect x="809" y="217" width="3" height="8" fill="#00ff7f"/>
<rect x="814" y="215" width="1" height="56" fill="#00ff7f"/>
<rect x="813" y="224" width="3" height="5" fill="#00ff7f"/>
<rect x="818" y="200" width="1" height="33" fill="#ff0000"/>
<rect x="817" y="216" width="3" height="13" fill="#ff0000"/>
<rect x="822" y="210" width="1" height="2" fill="#00ff7f"/>
<rect x="821" y="210" width="3" height="2" fill="#00ff7f"/>
<rect x="826" y="208" width="1" height="30" fill="#00ff7f"/>
<rect x="825" y="210" width="3" height="22" fill="#00ff7f"/>
<rect x="830" y="175" width="1" height="58" fill="#ff0000"/>
<rect x="829" y="183" width="3" height="50" fill="#ff0000"/>
<rect x="834" y="131" width="1" height="54" fill="#ff0000"/>
<rect x="833" y="147" width="3" height="38" fill="#ff0000"/>
<rect x="838" y="134" width="1" height="25" fill="#00ff7f"/>
<rect x="837" y="146" width="3" height="12" fill="#00ff7f"/>
<rect x="842" y="144" width="1" height="28" fill="#00ff7f"/>
<rect x="841" y="155" width="3" height="12" fill="#00ff7f"/>
<rect x="846" y="165" width="1" height="3" fill="#ff0000"/>
<rect x="845" y="165" width="3" height="3" fill="#ff0000"/>
<rect x="850" y="155" width="1" height="23" fill="#00ff7f"/>
<rect x="849" y="163" width="3" height="9" fill="#00ff7f"/>
<rect x="854" y="154" width="1" height="58" fill="#00ff7f"/>
<rect x="853" y="169" width="3" height="38" fill="#00ff7f"/>
<rect x="858" y="165" width="1" height="50" fill="#ff0000"/>
<rect x="857" y="178" width="3" height="29" fill="#ff0000"/>
<rect x="862" y="156" width="1" height="27" fill="#ff0000"/>
<rect x="861" y="160" width="3" height="19" fill="#ff0000"/>
<rect x="866" y="148" width="1" height="50" fill="#00ff7f"/>
<rect x="865" y="160" width="3" height="21" fill="#00ff7f"/>
<rect x="870" y="159" width="1" height="12" fill="#ff0000"/>
<rect x="869" y="159" width="3" height="11" fill="#ff0000"/>
<rect x="874" y="147" width="1" height="31" fill="#00ff7f"/>
<rect x="873" y="159" width="3" height="15" fill="#00ff7f"/>
<rect x="878" y="150" width="1" height="46" fill="#ff0000"/>
<rect x="877" y="159" width="3" height="15" fill="#ff0000"/>
<rect x="882" y="152" width="1" height="23" fill="#ff0000"/>
<rect x="881" y="158" width="3" height="3" fill="#ff0000"/>
<rect x="886" y="140" width="1" height="25" fill="#00ff7f"/>
<rect x="885" y="157" width="3" height="7" fill="#00ff7f"/>
<rect x="890" y="154" width="1" height="59" fill="#00ff7f"/>
<rect x="889" y="163" width="3" height="25" fill="#00ff7f"/>
<rect x="894" y="176" width="1" height="10" fill="#ff0000"/>
<rect x="893" y="176" width="3" height="9" fill="#ff0000"/>
<rect x="898" y="150" width="1" height="38" fill="#ff0000"/>
<rect x="897" y="155" width="3" height="22" fill="#ff0000"/>
<rect x="902" y="150" width="1" height="16" fill="#00ff7f"/>
<rect x="901" y="155" width="3" height="10" fill="#00ff7f"/>
<rect x="906" y="147" width="1" height="39" fill="#00ff7f"/>
<rect x="905" y="164" width="3" height="14" fill="#00ff7f"/>
<rect x="910" y="160" width="1" height="41" fill="#ff0000"/>
<rect x="909" y="163" width="3" height="14" fill="#ff0000"/>
<rect x="914" y="136" width="1" height="46" fill="#00ff7f"/>
<rect x="913" y="163" width="3" height="14" fill="#00ff7f"/>
<rect x="918" y="170" width="1" height="4" fill="#00ff7f"/>
<rect x="917" y="170" width="3" height="4" fill="#00ff7f"/>
<rect x="922" y="171" width="1" height="21" fill="#00ff7f"/>
<rect x="921" y="172" width="3" height="15" fill="#00ff7f"/>
<rect x="926" y="182" width="1" height="21" fill="#00ff7f"/>
<rect x="925" y="183" width="3" height="16" fill="#00ff7f"/>
<rect x="930" y="172" width="1" height="53" fill="#ff0000"/>
<rect x="929" y="173" width="3" height="27" fill="#ff0000"/>
<rect x="934" y="142" width="1" height="39" fill="#ff0000"/>
<rect x="933" y="158" width="3" height="22" fill="#ff0000"/>
<rect x="938" y="153" width="1" height="30" fill="#00ff7f"/>
<rect x="937" y="158" width="3" height="25" fill="#00ff7f"/>
<rect x="942" y="179" width="1" height="3" fill="#ff0000"/>
<rect x="941" y="179" width="3" height="3" fill="#ff0000"/>
<rect x="946" y="170" width="1" height="14" fill="#00ff7f"/>
<rect x="945" y="172" width="3" height="7" fill="#00ff7f"/>
<rect x="950" y="144" width="1" height="39" fill="#ff0000"/>
<rect x="949" y="149" width="3" height="33" fill="#ff0000"/>
<rect x="954" y="117" width="1" height="37" fill="#ff0000"/>
<rect x="953" y="135" width="3" height="16" fill="#ff0000"/>
<rect x="958" y="125" width="1" height="28" fill="#ff0000"/>
<rect x="957" y="125" width="3" height="12" fill="#ff0000"/>
<rect x="962" y="107" width="1" height="34" fill="#00ff7f"/>
<rect x="961" y="125" width="3" height="8" fill="#00ff7f"/>
<rect x="966" y="130" width="1" height="3" fill="#00ff7f"/>
<rect x="965" y="130" width="3" height="3" fill="#00ff7f"/>
<rect x="970" y="129" width="1" height="53" fill="#00ff7f"/>
<rect x="969" y="131" width="3" height="47" fill="#00ff7f"/>
<rect x="974" y="172" width="1" height="40" fill="#00ff7f"/>
<rect x="973" y="176" width="3" height="30" fill="#00ff7f"/>
<rect x="978" y="183" width="1" height="40" fill="#ff0000"/>
<rect x="977" y="190" width="3" height="16" fill="#ff0000"/>
<rect x="982" y="182" width="1" height="46" fill="#00ff7f"/>
<rect x="981" y="190" width="3" height="37" fill="#00ff7f"/>
<rect x="986" y="219" width="1" height="59" fill="#00ff7f"/>
<rect x="985" y="223" width="3" height="51" fill="#00ff7f"/>
<rect x="990" y="272" width="1" height="3" fill="#00ff7f"/>
<rect x="989" y="273" width="3" height="2" fill="#00ff7f"/>
<rect x="994" y="267" width="1" height="19" fill="#00ff7f"/>
<rect x="993" y="274" width="3" height="4" fill="#00ff7f"/>
<rect x="998" y="251" width="1" height="35" fill="#ff0000"/>
<rect x="997" y="267" width="3" height="11" fill="#ff0000"/>
<rect x="1002" y="231" width="1" height="42" fill="#ff0000"/>
<rect x="1001" y="237" width="3" height="31" fill="#ff0000"/>
<rect x="1006" y="234" width="1" height="24" fill="#00ff7f"/>
<rect x="1005" y="236" width="3" height="7" fill="#00ff7f"/>
<rect x="1010" y="190" width="1" height="53" fill="#ff0000"/>
<rect x="1009" y="190" width="3" height="53" fill="#ff0000"/>
<rect x="1014" y="190" width="1" height="7" fill="#ff0000"/>
<rect x="1013" y="193" width="3" height="1" fill="#ff0000"/>
<rect x="1018" y="188" width="1" height="2" fill="#ff0000"/>
<rect x="1017" y="188" width="3" height="2" fill="#ff0000"/>
<rect x="1022" y="181" width="1" height="36" fill="#00ff7f"/>
<rect x="1021" y="194" width="3" height="23" fill="#00ff7f"/>
<rect x="1026" y="209" width="1" height="64" fill="#00ff7f"/>
<rect x="1025" y="215" width="3" height="58" fill="#00ff7f"/>
<rect x="1030" y="273" width="1" height="69" fill="#00ff7f"/>
<rect x="1029" y="273" width="3" height="51" fill="#00ff7f"/>
<rect x="1034" y="296" width="1" height="40" fill="#ff0000"/>
<rect x="1033" y="308" width="3" height="15" fill="#ff0000"/>
<rect x="1038" y="305" width="1" height="10" fill="#00ff7f"/>
<rect x="1037" y="308" width="3" height="6" fill="#00ff7f"/>
<rect x="1042" y="304" width="1" height="23" fill="#00ff7f"/>
<rect x="1041" y="312" width="3" height="13" fill="#00ff7f"/>
<rect x="1046" y="308" width="1" height="34" fill="#00ff7f"/>
<rect x="1045" y="323" width="3" height="3" fill="#00ff7f"/>
<rect x="1050" y="322" width="1" height="45" fill="#00ff7f"/>
<rect x="1049" y="325" width="3" height="33" fill="#00ff7f"/>
<rect x="1054" y="348" width="1" height="28" fill="#00ff7f"/>
<rect x="1053" y="356" width="3" height="19" fill="#00ff7f"/>
<rect x="1058" y="369" width="1" height="24" fill="#00ff7f"/>
<rect x="1057" y="372" width="3" height="11" fill="#00ff7f"/>
<rect x="1062" y="374" width="1" height="6" fill="#ff0000"/>
<rect x="1061" y="374" width="3" height="4" fill="#ff0000"/>
<rect x="1066" y="344" width="1" height="36" fill="#ff0000"/>
<rect x="1065" y="350" width="3" height="26" fill="#ff0000"/>
<rect x="1070" y="347" width="1" height="28" fill="#00ff7f"/>
<rect x="1069" y="350" width="3" height="23" fill="#00ff7f"/>
<rect x="1074" y="358" width="1" height="38" fill="#00ff7f"/>
<rect x="1073" y="373" width="3" height="21" fill="#00ff7f"/>
<rect x="1078" y="381" width="1" height="26" fill="#00ff7f"/>
<rect x="1077" y="393" width="3" height="7" fill="#00ff7f"/>
<rect x="1082" y="349" width="1" height="50" fill="#ff0000"/>
<rect x="1081" y="378" width="3" height="21" fill="#ff0000"/>
<rect x="1086" y="380" width="1" height="8" fill="#ff0000"/>
<rect x="1085" y="383" width="3" height="1" fill="#ff0000"/>
<rect x="1090" y="367" width="1" height="33" fill="#ff0000"/>
<rect x="1089" y="367" width="3" height="16" fill="#ff0000"/>
<rect x="1094" y="346" width="1" height="25" fill="#ff0000"/>
<rect x="1093" y="354" width="3" height="15" fill="#ff0000"/>
<rect x="1098" y="345" width="1" height="48" fill="#00ff7f"/>
<rect x="1097" y="354" width="3" height="31" fill="#00ff7f"/>
<rect x="1102" y="374" width="1" height="30" fill="#00ff7f"/>
<rect x="1101" y="384" width="3" height="5" fill="#00ff7f"/>
<rect x="1106" y="387" width="1" height="31" fill="#00ff7f"/>
<rect x="1105" y="387" width="3" height="23" fill="#00ff7f"/>
<rect x="1110" y="406" width="1" height="5" fill="#ff0000"/>
<rect x="1109" y="406" width="3" height="5" fill="#ff0000"/>
<rect x="1114" y="396" width="1" height="20" fill="#ff0000"/>
<rect x="1113" y="398" width="3" height="9" fill="#ff0000"/>
<rect x="1118" y="374" width="1" height="41" fill="#ff0000"/>
<rect x="1117" y="377" width="3" height="22" fill="#ff0000"/>
<rect x="1122" y="373" width="1" height="35" fill="#00ff7f"/>
<rect x="1121" y="377" width="3" height="19" fill="#00ff7f"/>
<rect x="1126" y="372" width="1" height="47" fill="#00ff7f"/>
<rect x="1125" y="395" width="3" height="13" fill="#00ff7f"/>
<rect x="1130" y="405" width="1" height="7" fill="#00ff7f"/>
<rect x="1129" y="406" width="3" height="6" fill="#00ff7f"/>
<polyline points="6.5,379.6 10.5,383.1 14.5,388.1 18.5,394.0 22.5,402.9 26.5,410.2 30.5,412.6 34.5,416.5 38.5,416.5 42.5,411.2 46.5,402.9 50.5,398.6 54.5,396.5 58.5,391.8 62.5,385.7 66.5,383.4 70.5,381.6 74.5,378.4 78.5,373.1 82.5,370.9 86.5,370.4 90.5,374.1 94.5,381.3 98.5,392.0 102.5,402.3 106.5,411.9 110.5,420.9 114.5,429.4 118.5,434.4 122.5,435.6 126.5,439.1 130.5,445.9 134.5,454.8 138.5,463.8 142.5,471.1 146.5,473.1 150.5,472.3 154.5,470.8 158.5,469.4 162.5,468.4 166.5,464.4 170.5,461.4 174.5,460.9 178.5,461.4 182.5,458.5 186.5,454.6 190.5,446.0 194.5,435.6 198.5,426.1 202.5,418.8 206.5,412.4 210.5,406.9 214.5,403.3 218.5,397.9 222.5,396.3 226.5,393.6 230.5,390.4 234.5,386.7 238.5,380.0 242.5,373.7 246.5,370.2 250.5,369.6 254.5,369.8 258.5,369.2 262.5,368.5 266.5,366.0 270.5,359.4 274.5,354.6 278.5,348.4 282.5,343.3 286.5,338.5 290.5,336.1 294.5,335.9 298.5,333.6 302.5,331.1 306.5,322.6 310.5,317.9 314.5,314.9 318.5,310.2 322.5,306.9 326.5,305.0 330.5,300.8 334.5,299.5 338.5,297.5 342.5,295.7 346.5,291.7 350.5,290.4 354.5,286.0 358.5,278.4 362.5,274.9 366.5,272.6 370.5,267.1 374.5,260.4 378.5,254.3 382.5,250.4 386.5,248.1 390.5,244.1 394.5,239.6 398.5,234.6 402.5,227.2 406.5,216.0 410.5,206.2 414.5,197.0 418.5,188.7 422.5,176.4 426.5,166.1 430.5,159.0 434.5,149.2 438.5,137.6 442.5,126.6 446.5,116.5 450.5,106.9 454.5,98.1 458.5,97.2 462.5,100.5 466.5,105.8 470.5,117.7 474.5,132.0 478.5,147.1 482.5,161.1 486.5,173.1 490.5,187.2 494.5,201.8 498.5,216.6 502.5,231.4 506.5,245.3 510.5,259.8 514.5,267.9 518.5,271.7 522.5,272.1 526.5,270.3 530.5,266.0 534.5,265.5 538.5,266.1 542.5,266.6 546.5,266.2 550.5,271.7 554.5,277.1 558.5,284.0 562.5,291.3 566.5,297.6 570.5,303.6 574.5,307.0 578.5,308.9 582.5,313.2 586.5,316.1 590.5,313.0 594.5,312.9 598.5,312.9 602.5,312.4 606.5,307.9 610.5,303.4 614.5,297.5 618.5,293.1 622.5,291.0 626.5,286.9 630.5,290.1 634.5,297.4 638.5,299.5 642.5,304.1 646.5,310.6 650.5,313.1 654.5,311.4 658.5,311.9 662.5,309.4 666.5,304.6 670.5,296.1 674.5,286.6 678.5,276.9 682.5,269.2 686.5,259.2 690.5,250.1 694.5,245.3 698.5,238.7 702.5,230.6 706.5,223.5 710.5,222.4 714.5,220.8 718.5,221.8 722.5,221.3 726.5,222.4 730.5,223.4 734.5,224.1 738.5,225.6 742.5,224.4 746.5,221.4 750.5,219.3 754.5,218.4 758.5,219.6 762.5,219.6 766.5,218.9 770.5,217.2 774.5,213.1 778.5,213.0 782.5,217.1 786.5,220.7 790.5,223.7 794.5,223.8 798.5,227.1 802.5,231.1 806.5,230.4 810.5,230.0 814.5,228.5 818.5,227.4 822.5,225.9 826.5,226.8 830.5,225.2 834.5,220.3 838.5,213.7 842.5,208.6 846.5,202.8 850.5,199.9 854.5,197.6 858.5,193.4 862.5,189.3 866.5,186.1 870.5,181.2 874.5,178.1 878.5,174.4 882.5,169.2 886.5,167.8 890.5,170.6 894.5,172.0 898.5,171.2 902.5,171.1 906.5,171.6 910.5,168.5 914.5,168.4 918.5,169.3 922.5,169.7 926.5,172.5 930.5,172.5 934.5,172.4 938.5,174.1 942.5,175.3 946.5,174.6 950.5,172.7 954.5,171.3 958.5,168.5 962.5,165.3 966.5,163.1 970.5,163.1 974.5,165.4 978.5,165.7 982.5,167.7 986.5,174.9 990.5,183.1 994.5,189.9 998.5,196.2 1002.5,200.4 1006.5,207.1 1010.5,211.0 1014.5,215.9 1018.5,219.9 1022.5,225.9 1026.5,232.6 1030.5,241.1 1034.5,249.5 1038.5,255.7 1042.5,259.4 1046.5,263.0 1050.5,268.7 1054.5,276.4 1058.5,286.7 1062.5,296.1 1066.5,307.6 1070.5,320.4 1074.5,335.0 1078.5,348.1 1082.5,355.6 1086.5,359.9 1090.5,364.1 1094.5,367.1 1098.5,371.4 1102.5,375.9 1106.5,379.6 1110.5,381.9 1114.5,383.0 1118.5,383.2 1122.5,386.4 1126.5,388.9 1130.5,390.2" fill="none" stroke="#ff0000" stroke-width="1" />
<polyline points="6.5,393.2 10.5,394.1 14.5,395.5 18.5,396.9 22.5,399.6 26.5,399.2 30.5,398.1 34.5,397.8 38.5,397.8 42.5,395.4 46.5,392.6 50.5,391.8 54.5,391.7 58.5,390.2 62.5,390.1 66.5,390.9 70.5,391.9 74.5,390.9 78.5,391.3 82.5,393.4 86.5,393.1 90.5,394.1 94.5,396.5 98.5,398.0 102.5,398.2 106.5,397.8 110.5,398.8 114.5,401.4 118.5,402.0 122.5,403.6 126.5,410.5 130.5,419.6 134.5,428.7 138.5,438.2 142.5,445.9 146.5,452.4 150.5,455.8 154.5,457.4 158.5,458.8 162.5,461.4 166.5,461.1 170.5,462.0 174.5,459.9 178.5,457.1 182.5,454.8 186.5,454.5 190.5,451.5 194.5,448.0 198.5,443.7 202.5,442.0 206.5,440.4 210.5,436.0 214.5,430.4 218.5,423.4 222.5,416.1 226.5,410.4 230.5,404.7 234.5,400.0 238.5,394.3 242.5,390.7 246.5,386.0 250.5,384.8 254.5,382.7 258.5,380.9 262.5,378.4 266.5,374.3 270.5,366.9 274.5,362.5 278.5,358.0 282.5,355.1 286.5,351.2 290.5,349.2 294.5,347.0 298.5,344.2 302.5,341.5 306.5,335.7 310.5,332.2 314.5,330.5 318.5,327.4 322.5,325.5 326.5,321.1 330.5,316.2 334.5,311.3 338.5,306.9 342.5,302.2 346.5,298.0 350.5,296.5 354.5,295.3 358.5,290.7 362.5,286.7 366.5,285.1 370.5,282.9 374.5,276.9 378.5,271.1 382.5,265.6 386.5,260.8 390.5,259.0 394.5,254.7 398.5,248.7 402.5,242.6 406.5,236.0 410.5,229.4 414.5,221.5 418.5,212.8 422.5,204.4 426.5,196.5 430.5,188.4 434.5,177.0 438.5,166.7 442.5,159.6 446.5,153.4 450.5,144.2 454.5,136.0 458.5,133.9 462.5,133.5 466.5,133.0 470.5,134.6 474.5,138.1 478.5,142.7 482.5,147.5 486.5,152.4 490.5,157.8 494.5,163.8 498.5,172.7 502.5,181.8 506.5,190.1 510.5,198.5 514.5,206.5 518.5,215.1 522.5,222.7 526.5,230.4 530.5,237.7 534.5,248.5 538.5,259.5 542.5,265.3 546.5,268.3 550.5,274.4 554.5,279.0 558.5,283.2 562.5,286.2 566.5,289.5 570.5,293.5 574.5,295.0 578.5,294.1 582.5,294.8 586.5,294.3 590.5,293.6 594.5,294.9 598.5,295.4 602.5,295.4 606.5,298.3 610.5,301.0 614.5,304.2 618.5,304.6 622.5,306.1 626.5,307.0 630.5,310.9 634.5,311.2 638.5,309.7 642.5,307.7 646.5,306.5 650.5,305.2 654.5,300.5 658.5,298.7 662.5,298.6 666.5,295.3 670.5,290.8 674.5,287.0 678.5,282.1 682.5,277.8 686.5,275.5 690.5,272.6 694.5,271.0 698.5,268.5 702.5,264.8 706.5,260.2 710.5,257.5 714.5,252.5 718.5,248.3 722.5,243.2 726.5,236.4 730.5,228.9 734.5,222.8 738.5,220.6 742.5,217.1 746.5,213.9 750.5,214.1 754.5,216.6 758.5,220.2 762.5,222.0 766.5,224.0 770.5,224.5 774.5,223.6 778.5,221.6 782.5,222.0 786.5,222.3 790.5,222.9 794.5,221.6 798.5,221.4 802.5,220.1 806.5,220.1 810.5,221.7 814.5,223.6 818.5,224.2 822.5,224.2 826.5,226.1 830.5,226.1 834.5,222.3 838.5,218.9 842.5,214.9 846.5,211.7 850.5,208.9 854.5,208.3 858.5,207.0 862.5,204.3 866.5,201.0 870.5,197.3 874.5,193.8 878.5,191.3 882.5,187.5 886.5,183.9 890.5,182.5 894.5,180.2 898.5,176.7 902.5,174.3 906.5,172.6 910.5,169.4 914.5,169.1 918.5,170.3 922.5,171.7 926.5,173.2 930.5,173.6 934.5,173.0 938.5,171.8 942.5,171.9 946.5,172.7 950.5,171.3 954.5,170.1 958.5,167.8 962.5,166.5 966.5,165.3 970.5,166.0 974.5,166.8 978.5,167.5 982.5,170.9 986.5,176.1 990.5,180.7 994.5,186.1 998.5,190.5 1002.5,193.5 1006.5,196.2 1010.5,195.8 1014.5,196.7 1018.5,198.2 1022.5,199.8 1026.5,204.2 1030.5,211.1 1034.5,218.7 1038.5,227.2 1042.5,236.6 1046.5,245.8 1050.5,256.5 1054.5,265.9 1058.5,274.4 1062.5,283.1 1066.5,289.0 1070.5,293.7 1074.5,299.4 1078.5,305.2 1082.5,310.5 1086.5,317.5 1090.5,323.4 1094.5,331.2 1098.5,340.3 1102.5,349.8 1106.5,359.0 1110.5,365.4 1114.5,369.0 1118.5,372.3 1122.5,376.2 1126.5,380.1 1130.5,384.2" fill="none" stroke="#ffff00" stroke-width="1" />
<polyline points="6.5,399.0 10.5,406.0 14.5,412.5 18.5,416.0 22.5,427.5 26.5,438.2 30.5,438.4 34.5,434.1 38.5,427.1 42.5,409.9 46.5,389.9 50.5,369.6 54.5,354.8 58.5,345.2 62.5,337.4 66.5,339.6 70.5,353.4 74.5,366.9 78.5,376.6 82.5,387.1 86.5,395.6 90.5,410.9 94.5,422.9 98.5,430.6 102.5,437.6 106.5,447.2 110.5,454.6 114.5,463.2 118.5,457.8 122.5,448.4 126.5,447.5 130.5,454.2 134.5,462.4 138.5,472.9 142.5,478.9 146.5,488.5 150.5,496.2 154.5,494.1 158.5,484.5 162.5,474.5 166.5,455.8 170.5,443.8 174.5,433.4 178.5,426.6 182.5,422.9 186.5,424.6 190.5,417.5 194.5,415.4 198.5,408.5 202.5,404.2 206.5,398.2 210.5,390.9 214.5,381.9 218.5,378.2 222.5,377.2 226.5,378.8 230.5,376.6 234.5,375.2 238.5,369.1 242.5,365.5 246.5,362.2 250.5,361.9 254.5,360.8 258.5,361.8 262.5,361.8 266.5,362.9 270.5,353.4 274.5,346.9 278.5,334.9 282.5,325.8 286.5,315.2 290.5,310.5 294.5,308.9 298.5,313.8 302.5,315.2 306.5,310.2 310.5,310.1 314.5,314.6 318.5,309.9 322.5,304.8 326.5,296.2 330.5,286.4 334.5,288.8 338.5,284.9 342.5,276.8 346.5,273.5 350.5,275.9 354.5,275.8 358.5,270.5 362.5,261.1 366.5,260.4 370.5,257.4 374.5,247.2 378.5,232.6 382.5,224.9 386.5,225.6 390.5,227.2 394.5,218.8 398.5,211.9 402.5,207.2 406.5,199.4 410.5,187.5 414.5,168.4 418.5,150.2 422.5,134.1 426.5,120.2 430.5,110.8 434.5,99.1 438.5,87.8 442.5,84.9 446.5,82.8 450.5,79.6 454.5,75.9 458.5,83.6 462.5,101.9 466.5,123.8 470.5,150.5 474.5,181.2 478.5,214.5 482.5,246.2 486.5,262.6 490.5,272.5 494.5,279.8 498.5,282.6 502.5,281.5 506.5,276.1 510.5,273.4 514.5,273.1 518.5,270.9 522.5,264.5 526.5,257.9 530.5,250.5 534.5,254.9 538.5,258.9 542.5,260.2 546.5,261.5 550.5,278.9 554.5,296.4 558.5,317.5 562.5,327.6 566.5,336.2 570.5,347.1 574.5,352.5 578.5,338.8 582.5,330.1 586.5,314.8 590.5,298.4 594.5,289.5 598.5,278.8 602.5,272.2 606.5,277.1 610.5,276.6 614.5,280.2 618.5,287.9 622.5,292.5 626.5,295.1 630.5,307.9 634.5,317.6 638.5,322.4 642.5,328.1 646.5,333.2 650.5,333.6 654.5,327.8 658.5,315.9 662.5,301.2 666.5,286.9 670.5,264.2 674.5,239.9 678.5,220.1 682.5,210.6 686.5,202.5 690.5,198.9 694.5,203.6 698.5,213.2 702.5,221.4 706.5,226.9 710.5,234.1 714.5,239.1 718.5,244.6 722.5,238.9 726.5,231.6 730.5,225.5 734.5,221.4 738.5,217.2 742.5,209.8 746.5,198.2 750.5,199.6 754.5,205.1 758.5,213.8 762.5,217.8 766.5,220.6 770.5,224.6 774.5,227.9 778.5,226.4 782.5,229.2 786.5,227.6 790.5,229.6 794.5,226.9 798.5,229.6 802.5,234.2 806.5,234.4 810.5,230.8 814.5,229.4 818.5,225.1 822.5,224.9 826.5,223.9 830.5,216.2 834.5,206.2 838.5,196.6 842.5,187.8 846.5,180.5 850.5,174.8 854.5,171.2 858.5,170.5 862.5,172.4 866.5,175.6 870.5,174.6 874.5,175.8 878.5,174.1 882.5,167.2 886.5,165.1 890.5,168.9 894.5,168.4 898.5,167.8 902.5,166.5 906.5,169.1 910.5,169.8 914.5,171.6 918.5,169.6 922.5,171.1 926.5,177.2 930.5,178.5 934.5,175.8 938.5,178.5 942.5,178.9 946.5,179.6 950.5,174.4 954.5,165.4 958.5,158.5 962.5,154.8 966.5,147.6 970.5,147.4 974.5,151.2 978.5,157.1 982.5,170.1 986.5,191.2 990.5,211.5 994.5,232.2 998.5,245.1 1002.5,249.6 1006.5,257.1 1010.5,251.9 1014.5,240.5 1018.5,228.2 1022.5,219.5 1026.5,220.2 1030.5,232.5 1034.5,241.9 1038.5,259.5 1042.5,278.2 1046.5,297.8 1050.5,317.9 1054.5,332.5 1058.5,340.9 1062.5,350.4 1066.5,355.6 1070.5,362.5 1074.5,372.2 1078.5,378.2 1082.5,378.8 1086.5,378.9 1090.5,377.9 1094.5,378.5 1098.5,380.2 1102.5,379.5 1106.5,380.9 1110.5,384.9 1114.5,387.1 1118.5,388.5 1122.5,394.4 1126.5,397.6 1130.5,400.9" fill="none" stroke="#0000cd" stroke-width="1" />
</g>
<g clip-path="url(#clipmacd)">
<rect x="6" y="619" width="1" height="6" fill="#c0c0c0"/>
<rect x="10" y="619" width="1" height="8" fill="#c0c0c0"/>
<rect x="14" y="619" width="1" height="11" fill="#c0c0c0"/>
<rect x="18" y="619" width="1" height="15" fill="#c0c0c0"/>
<rect x="22" y="619" width="1" height="19" fill="#c0c0c0"/>
<rect x="26" y="619" width="1" height="18" fill="#c0c0c0"/>
<rect x="30" y="619" width="1" height="15" fill="#c0c0c0"/>
<rect x="34" y="619" width="1" height="11" fill="#c0c0c0"/>
<rect x="38" y="619" width="1" height="7" fill="#c0c0c0"/>
<rect x="42" y="619" width="1" height="1" fill="#c0c0c0"/>
<rect x="46" y="614" width="1" height="5" fill="#c0c0c0"/>
<rect x="50" y="611" width="1" height="8" fill="#c0c0c0"/>
<rect x="54" y="608" width="1" height="11" fill="#c0c0c0"/>
<rect x="58" y="606" width="1" height="13" fill="#c0c0c0"/>
<rect x="62" y="605" width="1" height="14" fill="#c0c0c0"/>
<rect x="66" y="608" width="1" height="11" fill="#c0c0c0"/>
<rect x="70" y="613" width="1" height="6" fill="#c0c0c0"/>
<rect x="74" y="617" width="1" height="2" fill="#c0c0c0"/>
<rect x="78" y="619" width="1" height="1" fill="#c0c0c0"/>
<rect x="82" y="619" width="1" height="1" fill="#c0c0c0"/>
<rect x="86" y="619" width="1" height="1" fill="#c0c0c0"/>
<rect x="90" y="619" width="1" height="5" fill="#c0c0c0"/>
<rect x="94" y="619" width="1" height="10" fill="#c0c0c0"/>
<rect x="98" y="619" width="1" height="15" fill="#c0c0c0"/>
<rect x="102" y="619" width="1" height="18" fill="#c0c0c0"/>
<rect x="106" y="619" width="1" height="20" fill="#c0c0c0"/>
<rect x="110" y="619" width="1" height="20" fill="#c0c0c0"/>
<rect x="114" y="619" width="1" height="19" fill="#c0c0c0"/>
<rect x="118" y="619" width="1" height="15" fill="#c0c0c0"/>
<rect x="122" y="619" width="1" height="12" fill="#c0c0c0"/>
<rect x="126" y="619" width="1" height="14" fill="#c0c0c0"/>
<rect x="130" y="619" width="1" height="19" fill="#c0c0c0"/>
<rect x="134" y="619" width="1" height="24" fill="#c0c0c0"/>
<rect x="138" y="619" width="1" height="27" fill="#c0c0c0"/>
<rect x="142" y="619" width="1" height="27" fill="#c0c0c0"/>
<rect x="146" y="619" width="1" height="24" fill="#c0c0c0"/>
<rect x="150" y="619" width="1" height="22" fill="#c0c0c0"/>
<rect x="154" y="619" width="1" height="19" fill="#c0c0c0"/>
<rect x="158" y="619" width="1" height="16" fill="#c0c0c0"/>
<rect x="162" y="619" width="1" height="14" fill="#c0c0c0"/>
<rect x="166" y="619" width="1" height="8" fill="#c0c0c0"/>
<rect x="170" y="619" width="1" height="4" fill="#c0c0c0"/>
<rect x="174" y="619" width="1" height="1" fill="#c0c0c0"/>
<rect x="178" y="617" width="1" height="2" fill="#c0c0c0"/>
<rect x="182" y="617" width="1" height="2" fill="#c0c0c0"/>
<rect x="186" y="619" width="1" height="1" fill="#c0c0c0"/>
<rect x="190" y="617" width="1" height="2" fill="#c0c0c0"/>
<rect x="194" y="613" width="1" height="6" fill="#c0c0c0"/>
<rect x="198" y="609" width="1" height="10" fill="#c0c0c0"/>
<rect x="202" y="606" width="1" height="13" fill="#c0c0c0"/>
<rect x="206" y="604" width="1" height="15" fill="#c0c0c0"/>
<rect x="210" y="603" width="1" height="16" fill="#c0c0c0"/>
<rect x="214" y="604" width="1" height="15" fill="#c0c0c0"/>
<rect x="218" y="604" width="1" height="15" fill="#c0c0c0"/>
<rect x="222" y="604" width="1" height="15" fill="#c0c0c0"/>
<rect x="226" y="603" width="1" height="16" fill="#c0c0c0"/>
<rect x="230" y="602" width="1" height="17" fill="#c0c0c0"/>
<rect x="234" y="601" width="1" height="18" fill="#c0c0c0"/>
<rect x="238" y="599" width="1" height="20" fill="#c0c0c0"/>
<rect x="242" y="601" width="1" height="18" fill="#c0c0c0"/>
<rect x="246" y="601" width="1" height="18" fill="#c0c0c0"/>
<rect x="250" y="602" width="1" height="17" fill="#c0c0c0"/>
<rect x="254" y="603" width="1" height="16" fill="#c0c0c0"/>
<rect x="258" y="603" width="1" height="16" fill="#c0c0c0"/>
<rect x="262" y="604" width="1" height="15" fill="#c0c0c0"/>
<rect x="266" y="603" width="1" height="16" fill="#c0c0c0"/>
<rect x="270" y="600" width="1" height="19" fill="#c0c0c0"/>
<rect x="274" y="599" width="1" height="20" fill="#c0c0c0"/>
<rect x="278" y="596" width="1" height="23" fill="#c0c0c0"/>
<rect x="282" y="594" width="1" height="25" fill="#c0c0c0"/>
<rect x="286" y="593" width="1" height="26" fill="#c0c0c0"/>
<rect x="290" y="595" width="1" height="24" fill="#c0c0c0"/>
<rect x="294" y="597" width="1" height="22" fill="#c0c0c0"/>
<rect x="298" y="600" width="1" height="19" fill="#c0c0c0"/>
<rect x="302" y="601" width="1" height="18" fill="#c0c0c0"/>
<rect x="306" y="597" width="1" height="22" fill="#c0c0c0"/>
<rect x="310" y="597" width="1" height="22" fill="#c0c0c0"/>
<rect x="314" y="599" width="1" height="20" fill="#c0c0c0"/>
<rect x="318" y="599" width="1" height="20" fill="#c0c0c0"/>
<rect x="322" y="599" width="1" height="20" fill="#c0c0c0"/>
<rect x="326" y="598" width="1" height="21" fill="#c0c0c0"/>
<rect x="330" y="596" width="1" height="23" fill="#c0c0c0"/>
<rect x="334" y="596" width="1" height="23" fill="#c0c0c0"/>
<rect x="338" y="596" width="1" height="23" fill="#c0c0c0"/>
<rect x="342" y="596" width="1" height="23" fill="#c0c0c0"/>
<rect x="346" y="596" width="1" height="23" fill="#c0c0c0"/>
<rect x="350" y="600" width="1" height="19" fill="#c0c0c0"/>
<rect x="354" y="601" width="1" height="18" fill="#c0c0c0"/>
<rect x="358" y="597" width="1" height="22" fill="#c0c0c0"/>
<rect x="362" y="594" width="1" height="25" fill="#c0c0c0"/>
<rect x="366" y="596" width="1" height="23" fill="#c0c0c0"/>
<rect x="370" y="595" width="1" height="24" fill="#c0c0c0"/>
<rect x="374" y="593" width="1" height="26" fill="#c0c0c0"/>
<rect x="378" y="592" width="1" height="27" fill="#c0c0c0"/>
<rect x="382" y="592" width="1" height="27" fill="#c0c0c0"/>
<rect x="386" y="593" width="1" height="26" fill="#c0c0c0"/>
<rect x="390" y="593" width="1" height="26" fill="#c0c0c0"/>
<rect x="394" y="593" width="1" height="26" fill="#c0c0c0"/>
<rect x="398" y="592" width="1" height="27" fill="#c0c0c0"/>
<rect x="402" y="589" width="1" height="30" fill="#c0c0c0"/>
<rect x="406" y="587" width="1" height="32" fill="#c0c0c0"/>
<rect x="410" y="585" width="1" height="34" fill="#c0c0c0"/>
<rect x="414" y="579" width="1" height="40" fill="#c0c0c0"/>
<rect x="418" y="575" width="1" height="44" fill="#c0c0c0"/>
<rect x="422" y="573" width="1" height="46" fill="#c0c0c0"/>
<rect x="426" y="572" width="1" height="47" fill="#c0c0c0"/>
<rect x="430" y="572" width="1" height="47" fill="#c0c0c0"/>
<rect x="434" y="571" width="1" height="48" fill="#c0c0c0"/>
<rect x="438" y="570" width="1" height="49" fill="#c0c0c0"/>
<rect x="442" y="570" width="1" height="49" fill="#c0c0c0"/>
<rect x="446" y="571" width="1" height="48" fill="#c0c0c0"/>
<rect x="450" y="572" width="1" height="47" fill="#c0c0c0"/>
<rect x="454" y="573" width="1" height="46" fill="#c0c0c0"/>
<rect x="458" y="581" width="1" height="38" fill="#c0c0c0"/>
<rect x="462" y="591" width="1" height="28" fill="#c0c0c0"/>
<rect x="466" y="600" width="1" height="19" fill="#c0c0c0"/>
<rect x="470" y="610" width="1" height="9" fill="#c0c0c0"/>
<rect x="474" y="619" width="1" height="2" fill="#c0c0c0"/>
<rect x="478" y="619" width="1" height="11" fill="#c0c0c0"/>
<rect x="482" y="619" width="1" height="18" fill="#c0c0c0"/>
<rect x="486" y="619" width="1" height="21" fill="#c0c0c0"/>
<rect x="490" y="619" width="1" height="23" fill="#c0c0c0"/>
<rect x="494" y="619" width="1" height="25" fill="#c0c0c0"/>
<rect x="498" y="619" width="1" height="26" fill="#c0c0c0"/>
<rect x="502" y="619" width="1" height="27" fill="#c0c0c0"/>
<rect x="506" y="619" width="1" height="27" fill="#c0c0c0"/>
<rect x="510" y="619" width="1" height="26" fill="#c0c0c0"/>
<rect x="514" y="619" width="1" height="25" fill="#c0c0c0"/>
<rect x="518" y="619" width="1" height="24" fill="#c0c0c0"/>
<rect x="522" y="619" width="1" height="20" fill="#c0c0c0"/>
<rect x="526" y="619" width="1" height="17" fill="#c0c0c0"/>
<rect x="530" y="619" width="1" height="14" fill="#c0c0c0"/>
<rect x="534" y="619" width="1" height="17" fill="#c0c0c0"/>
<rect x="538" y="619" width="1" height="19" fill="#c0c0c0"/>
<rect x="542" y="619" width="1" height="19" fill="#c0c0c0"/>
<rect x="546" y="619" width="1" height="18" fill="#c0c0c0"/>
<rect x="550" y="619" width="1" height="23" fill="#c0c0c0"/>
<rect x="554" y="619" width="1" height="27" fill="#c0c0c0"/>
<rect x="558" y="619" width="1" height="31" fill="#c0c0c0"/>
<rect x="562" y="619" width="1" height="34" fill="#c0c0c0"/>
<rect x="566" y="619" width="1" height="35" fill="#c0c0c0"/>
<rect x="570" y="619" width="1" height="35" fill="#c0c0c0"/>
<rect x="574" y="619" width="1" height="31" fill="#c0c0c0"/>
<rect x="578" y="619" width="1" height="23" fill="#c0c0c0"/>
<rect x="582" y="619" width="1" height="20" fill="#c0c0c0"/>
<rect x="586" y="619" width="1" height="16" fill="#c0c0c0"/>
<rect x="590" y="619" width="1" height="11" fill="#c0c0c0"/>
<rect x="594" y="619" width="1" height="10" fill="#c0c0c0"/>
<rect x="598" y="619" width="1" height="8" fill="#c0c0c0"/>
<rect x="602" y="619" width="1" height="5" fill="#c0c0c0"/>
<rect x="606" y="619" width="1" height="5" fill="#c0c0c0"/>
<rect x="610" y="619" width="1" height="5" fill="#c0c0c0"/>
<rect x="614" y="619" width="1" height="5" fill="#c0c0c0"/>
<rect x="618" y="619" width="1" height="6" fill="#c0c0c0"/>
<rect x="622" y="619" width="1" height="8" fill="#c0c0c0"/>
<rect x="626" y="619" width="1" height="8" fill="#c0c0c0"/>
<rect x="630" y="619" width="1" height="11" fill="#c0c0c0"/>
<rect x="634" y="619" width="1" height="13" fill="#c0c0c0"/>
<rect x="638" y="619" width="1" height="13" fill="#c0c0c0"/>
<rect x="642" y="619" width="1" height="14" fill="#c0c0c0"/>
<rect x="646" y="619" width="1" height="15" fill="#c0c0c0"/>
<rect x="650" y="619" width="1" height="14" fill="#c0c0c0"/>
<rect x="654" y="619" width="1" height="8" fill="#c0c0c0"/>
<rect x="658" y="619" width="1" height="4" fill="#c0c0c0"/>
<rect x="662" y="619" width="1" height="1" fill="#c0c0c0"/>
<rect x="666" y="613" width="1" height="6" fill="#c0c0c0"/>
<rect x="670" y="606" width="1" height="13" fill="#c0c0c0"/>
<rect x="674" y="600" width="1" height="19" fill="#c0c0c0"/>
<rect x="678" y="597" width="1" height="22" fill="#c0c0c0"/>
<rect x="682" y="594" width="1" height="25" fill="#c0c0c0"/>
<rect x="686" y="594" width="1" height="25" fill="#c0c0c0"/>
<rect x="690" y="595" width="1" height="24" fill="#c0c0c0"/>
<rect x="694" y="599" width="1" height="20" fill="#c0c0c0"/>
<rect x="698" y="601" width="1" height="18" fill="#c0c0c0"/>
<rect x="702" y="602" width="1" height="17" fill="#c0c0c0"/>
<rect x="706" y="603" width="1" height="16" fill="#c0c0c0"/>
<rect x="710" y="605" width="1" height="14" fill="#c0c0c0"/>
<rect x="714" y="606" width="1" height="13" fill="#c0c0c0"/>
<rect x="718" y="609" width="1" height="10" fill="#c0c0c0"/>
<rect x="722" y="608" width="1" height="11" fill="#c0c0c0"/>
<rect x="726" y="605" width="1" height="14" fill="#c0c0c0"/>
<rect x="730" y="603" width="1" height="16" fill="#c0c0c0"/>
<rect x="734" y="603" width="1" height="16" fill="#c0c0c0"/>
<rect x="738" y="603" width="1" height="16" fill="#c0c0c0"/>
<rect x="742" y="603" width="1" height="16" fill="#c0c0c0"/>
<rect x="746" y="601" width="1" height="18" fill="#c0c0c0"/>
<rect x="750" y="604" width="1" height="15" fill="#c0c0c0"/>
<rect x="754" y="606" width="1" height="13" fill="#c0c0c0"/>
<rect x="758" y="610" width="1" height="9" fill="#c0c0c0"/>
<rect x="762" y="611" width="1" height="8" fill="#c0c0c0"/>
<rect x="766" y="612" width="1" height="7" fill="#c0c0c0"/>
<rect x="770" y="613" width="1" height="6" fill="#c0c0c0"/>
<rect x="774" y="612" width="1" height="7" fill="#c0c0c0"/>
<rect x="778" y="612" width="1" height="7" fill="#c0c0c0"/>
<rect x="782" y="615" width="1" height="4" fill="#c0c0c0"/>
<rect x="786" y="616" width="1" height="3" fill="#c0c0c0"/>
<rect x="790" y="618" width="1" height="1" fill="#c0c0c0"/>
<rect x="794" y="617" width="1" height="2" fill="#c0c0c0"/>
<rect x="798" y="618" width="1" height="1" fill="#c0c0c0"/>
<rect x="802" y="618" width="1" height="1" fill="#c0c0c0"/>
<rect x="806" y="617" width="1" height="2" fill="#c0c0c0"/>
<rect x="810" y="617" width="1" height="2" fill="#c0c0c0"/>
<rect x="814" y="617" width="1" height="2" fill="#c0c0c0"/>
<rect x="818" y="617" width="1" height="2" fill="#c0c0c0"/>
<rect x="822" y="616" width="1" height="3" fill="#c0c0c0"/>
<rect x="826" y="617" width="1" height="2" fill="#c0c0c0"/>
<rect x="830" y="614" width="1" height="5" fill="#c0c0c0"/>
<rect x="834" y="609" width="1" height="10" fill="#c0c0c0"/>
<rect x="838" y="606" width="1" height="13" fill="#c0c0c0"/>
<rect x="842" y="604" width="1" height="15" fill="#c0c0c0"/>
<rect x="846" y="603" width="1" height="16" fill="#c0c0c0"/>
<rect x="850" y="603" width="1" height="16" fill="#c0c0c0"/>
<rect x="854" y="606" width="1" height="13" fill="#c0c0c0"/>
<rect x="858" y="606" width="1" height="13" fill="#c0c0c0"/>
<rect x="862" y="605" width="1" height="14" fill="#c0c0c0"/>
<rect x="866" y="605" width="1" height="14" fill="#c0c0c0"/>
<rect x="870" y="605" width="1" height="14" fill="#c0c0c0"/>
<rect x="874" y="605" width="1" height="14" fill="#c0c0c0"/>
<rect x="878" y="605" width="1" height="14" fill="#c0c0c0"/>
<rect x="882" y="605" width="1" height="14" fill="#c0c0c0"/>
<rect x="886" y="605" width="1" height="14" fill="#c0c0c0"/>
<rect x="890" y="607" width="1" height="12" fill="#c0c0c0"/>
<rect x="894" y="608" width="1" height="11" fill="#c0c0c0"/>
<rect x="898" y="608" width="1" height="11" fill="#c0c0c0"/>
<rect x="902" y="608" width="1" height="11" fill="#c0c0c0"/>
<rect x="906" y="609" width="1" height="10" fill="#c0c0c0"/>
<rect x="910" y="609" width="1" height="10" fill="#c0c0c0"/>
<rect x="914" y="610" width="1" height="9" fill="#c0c0c0"/>
<rect x="918" y="611" width="1" height="8" fill="#c0c0c0"/>
<rect x="922" y="613" width="1" height="6" fill="#c0c0c0"/>
<rect x="926" y="615" width="1" height="4" fill="#c0c0c0"/>
<rect x="930" y="615" width="1" height="4" fill="#c0c0c0"/>
<rect x="934" y="614" width="1" height="5" fill="#c0c0c0"/>
<rect x="938" y="615" width="1" height="4" fill="#c0c0c0"/>
<rect x="942" y="616" width="1" height="3" fill="#c0c0c0"/>
<rect x="946" y="616" width="1" height="3" fill="#c0c0c0"/>
<rect x="950" y="614" width="1" height="5" fill="#c0c0c0"/>
<rect x="954" y="612" width="1" height="7" fill="#c0c0c0"/>
<rect x="958" y="609" width="1" height="10" fill="#c0c0c0"/>
<rect x="962" y="608" width="1" height="11" fill="#c0c0c0"/>
<rect x="966" y="607" width="1" height="12" fill="#c0c0c0"/>
<rect x="970" y="610" width="1" height="9" fill="#c0c0c0"/>
<rect x="974" y="614" width="1" height="5" fill="#c0c0c0"/>
<rect x="978" y="616" width="1" height="3" fill="#c0c0c0"/>
<rect x="982" y="619" width="1" height="2" fill="#c0c0c0"/>
<rect x="986" y="619" width="1" height="9" fill="#c0c0c0"/>
<rect x="990" y="619" width="1" height="14" fill="#c0c0c0"/>
<rect x="994" y="619" width="1" height="19" fill="#c0c0c0"/>
<rect x="998" y="619" width="1" height="21" fill="#c0c0c0"/>
<rect x="1002" y="619" width="1" height="21" fill="#c0c0c0"/>
<rect x="1006" y="619" width="1" height="20" fill="#c0c0c0"/>
<rect x="1010" y="619" width="1" height="16" fill="#c0c0c0"/>
<rect x="1014" y="619" width="1" height="13" fill="#c0c0c0"/>
<rect x="1018" y="619" width="1" height="9" fill="#c0c0c0"/>
<rect x="1022" y="619" width="1" height="9" fill="#c0c0c0"/>
<rect x="1026" y="619" width="1" height="13" fill="#c0c0c0"/>
<rect x="1030" y="619" width="1" height="19" fill="#c0c0c0"/>
<rect x="1034" y="619" width="1" height="23" fill="#c0c0c0"/>
<rect x="1038" y="619" width="1" height="26" fill="#c0c0c0"/>
<rect x="1042" y="619" width="1" height="29" fill="#c0c0c0"/>
<rect x="1046" y="619" width="1" height="31" fill="#c0c0c0"/>
<rect x="1050" y="619" width="1" height="34" fill="#c0c0c0"/>
<rect x="1054" y="619" width="1" height="38" fill="#c0c0c0"/>
<rect x="1058" y="619" width="1" height="41" fill="#c0c0c0"/>
<rect x="1062" y="619" width="1" height="42" fill="#c0c0c0"/>
<rect x="1066" y="619" width="1" height="41" fill="#c0c0c0"/>
<rect x="1070" y="619" width="1" height="41" fill="#c0c0c0"/>
<rect x="1074" y="619" width="1" height="43" fill="#c0c0c0"/>
<rect x="1078" y="619" width="1" height="44" fill="#c0c0c0"/>
<rect x="1082" y="619" width="1" height="42" fill="#c0c0c0"/>
<rect x="1086" y="619" width="1" height="41" fill="#c0c0c0"/>
<rect x="1090" y="619" width="1" height="39" fill="#c0c0c0"/>
<rect x="1094" y="619" width="1" height="35" fill="#c0c0c0"/>
<rect x="1098" y="619" width="1" height="34" fill="#c0c0c0"/>
<rect x="1102" y="619" width="1" height="34" fill="#c0c0c0"/>
<rect x="1106" y="619" width="1" height="34" fill="#c0c0c0"/>
<rect x="1110" y="619" width="1" height="34" fill="#c0c0c0"/>
<rect x="1114" y="619" width="1" height="33" fill="#c0c0c0"/>
<rect x="1118" y="619" width="1" height="30" fill="#c0c0c0"/>
<rect x="1122" y="619" width="1" height="29" fill="#c0c0c0"/>
<rect x="1126" y="619" width="1" height="28" fill="#c0c0c0"/>
<rect x="1130" y="619" width="1" height="28" fill="#c0c0c0"/>
<polyline points="6.5,620.4 10.5,621.3 14.5,622.9 18.5,624.9 22.5,627.1 26.5,628.6 30.5,629.6 34.5,630.6 38.5,631.0 42.5,630.5 46.5,629.1 50.5,627.0 54.5,624.2 58.5,620.7 62.5,617.1 66.5,614.2 70.5,612.3 74.5,611.3 78.5,611.2 82.5,611.9 86.5,612.9 90.5,614.7 94.5,617.3 98.5,620.6 102.5,623.8 106.5,626.6 110.5,629.0 114.5,631.2 118.5,632.7 122.5,633.9 126.5,634.9 130.5,635.9 134.5,636.9 138.5,638.0 142.5,638.7 146.5,639.2 150.5,639.5 154.5,639.9 158.5,640.3 162.5,640.3 166.5,639.1 170.5,636.9 174.5,633.9 178.5,630.7 182.5,627.8 186.5,625.4 190.5,623.1 194.5,620.6 198.5,617.9 202.5,615.5 206.5,613.4 210.5,611.6 214.5,610.2 218.5,608.8 222.5,607.1 226.5,605.6 230.5,604.4 234.5,603.5 238.5,602.8 242.5,602.4 246.5,602.2 250.5,602.0 254.5,601.8 258.5,601.8 262.5,601.9 266.5,602.0 270.5,601.9 274.5,601.9 278.5,601.3 282.5,600.6 286.5,599.5 290.5,598.6 294.5,597.9 298.5,597.4 302.5,597.1 306.5,596.7 310.5,596.5 314.5,596.8 318.5,597.3 322.5,598.0 326.5,598.4 330.5,598.4 334.5,598.0 338.5,597.4 342.5,597.3 346.5,597.3 350.5,597.4 354.5,597.7 358.5,597.5 362.5,597.0 366.5,596.9 370.5,596.8 374.5,596.4 378.5,596.0 382.5,595.5 386.5,594.7 390.5,593.8 394.5,593.3 398.5,593.0 402.5,592.3 406.5,591.4 410.5,590.5 414.5,589.2 418.5,587.3 422.5,585.2 426.5,582.8 430.5,580.6 434.5,578.3 438.5,576.1 442.5,574.2 446.5,572.6 450.5,571.7 454.5,571.4 458.5,572.2 462.5,574.3 466.5,577.4 470.5,581.8 474.5,587.5 478.5,594.2 482.5,601.5 486.5,609.1 490.5,616.9 494.5,623.9 498.5,629.9 502.5,635.0 506.5,638.9 510.5,641.6 514.5,643.2 518.5,643.9 522.5,643.7 526.5,643.0 530.5,641.8 534.5,640.8 538.5,639.9 542.5,639.0 546.5,638.1 550.5,637.8 554.5,638.1 558.5,639.4 562.5,641.3 566.5,643.6 570.5,645.6 574.5,646.9 578.5,647.4 582.5,647.6 586.5,646.9 590.5,645.1 594.5,642.8 598.5,640.0 602.5,636.7 606.5,633.4 610.5,630.5 614.5,628.4 618.5,626.9 622.5,626.0 626.5,625.6 630.5,625.7 634.5,626.2 638.5,627.1 642.5,628.1 646.5,629.2 650.5,630.3 654.5,630.6 658.5,630.2 662.5,629.3 666.5,627.5 670.5,624.5 674.5,620.9 678.5,616.9 682.5,612.5 686.5,608.1 690.5,604.5 694.5,601.8 698.5,599.8 702.5,598.6 706.5,598.3 710.5,598.8 714.5,599.9 718.5,601.5 722.5,603.1 726.5,604.2 730.5,604.7 734.5,604.9 738.5,605.1 742.5,605.1 746.5,604.7 750.5,604.4 754.5,604.1 758.5,604.3 762.5,605.0 766.5,606.0 770.5,607.1 774.5,608.0 778.5,609.0 782.5,610.5 786.5,611.9 790.5,613.2 794.5,613.9 798.5,614.6 802.5,615.3 806.5,615.8 810.5,616.4 814.5,617.0 818.5,617.2 822.5,617.2 826.5,617.1 830.5,616.8 834.5,615.8 838.5,614.4 842.5,613.0 846.5,611.4 850.5,609.8 854.5,608.6 858.5,607.5 862.5,606.1 866.5,605.2 870.5,604.7 874.5,604.7 878.5,604.7 882.5,604.9 886.5,605.1 890.5,605.2 894.5,605.5 898.5,605.8 902.5,606.1 906.5,606.6 910.5,607.0 914.5,607.7 918.5,608.4 922.5,609.3 926.5,610.2 930.5,611.0 934.5,611.7 938.5,612.5 942.5,613.2 946.5,614.0 950.5,614.4 954.5,614.5 958.5,614.1 962.5,613.3 966.5,612.4 970.5,611.9 974.5,611.8 978.5,611.9 982.5,612.4 986.5,613.9 990.5,616.3 994.5,619.5 998.5,623.1 1002.5,626.7 1006.5,629.9 1010.5,632.3 1014.5,633.9 1018.5,634.8 1022.5,634.8 1026.5,634.6 1030.5,634.6 1034.5,634.8 1038.5,635.4 1042.5,636.4 1046.5,638.0 1050.5,640.5 1054.5,643.7 1058.5,647.2 1062.5,650.5 1066.5,653.0 1070.5,655.1 1074.5,656.9 1078.5,658.6 1082.5,659.8 1086.5,660.6 1090.5,660.6 1094.5,660.0 1098.5,659.0 1102.5,658.2 1106.5,657.4 1110.5,656.4 1114.5,655.2 1118.5,653.8 1122.5,652.5 1126.5,651.4 1130.5,650.6" fill="none" stroke="#ff0000" stroke-width="1" stroke-dasharray="3,3" shape-rendering="crispEdges"/>
</g>
<g clip-path="url(#cliprsi)">
<polyline points="6.5,741.5 10.5,741.6 14.5,746.3 18.5,749.6 22.5,751.8 26.5,739.7 30.5,732.6 34.5,731.3 38.5,727.9 42.5,720.3 46.5,720.3 50.5,723.3 54.5,721.3 58.5,721.9 62.5,723.3 66.5,736.7 70.5,743.6 74.5,743.3 78.5,739.4 82.5,737.9 86.5,735.0 90.5,746.1 94.5,751.3 98.5,752.1 102.5,750.3 106.5,750.8 110.5,744.3 114.5,743.4 118.5,730.9 122.5,731.5 126.5,745.8 130.5,753.3 134.5,755.2 138.5,754.0 142.5,744.6 146.5,739.5 150.5,737.0 154.5,736.0 158.5,734.8 162.5,737.2 166.5,722.9 170.5,725.9 174.5,724.0 178.5,728.0 182.5,732.3 186.5,739.8 190.5,728.5 194.5,723.1 198.5,719.7 202.5,721.7 206.5,722.5 210.5,724.6 214.5,730.2 218.5,726.9 222.5,724.5 226.5,723.9 230.5,720.0 234.5,722.6 238.5,717.3 242.5,729.0 246.5,726.1 250.5,728.9 254.5,726.7 258.5,726.0 262.5,726.3 266.5,721.9 270.5,714.0 274.5,717.3 278.5,711.6 282.5,715.7 286.5,713.1 290.5,727.0 294.5,728.4 298.5,731.1 302.5,727.2 306.5,712.6 310.5,724.8 314.5,729.5 318.5,725.1 322.5,725.6 326.5,722.7 330.5,718.4 334.5,721.8 338.5,722.0 342.5,720.0 346.5,723.5 350.5,735.0 354.5,727.5 358.5,716.9 362.5,714.4 366.5,728.9 370.5,724.6 374.5,718.9 378.5,721.3 382.5,724.6 386.5,724.5 390.5,722.5 394.5,721.1 398.5,718.5 402.5,714.5 406.5,712.8 410.5,710.7 414.5,703.9 418.5,703.4 422.5,705.5 426.5,705.8 430.5,708.4 434.5,704.4 438.5,703.0 442.5,705.8 446.5,706.2 450.5,706.0 454.5,705.5 458.5,735.6 462.5,745.6 466.5,748.3 470.5,754.9 474.5,758.9 478.5,761.0 482.5,756.8 486.5,751.0 490.5,751.2 494.5,750.3 498.5,752.1 502.5,752.3 506.5,747.7 510.5,748.9 514.5,747.7 518.5,743.2 522.5,732.4 526.5,735.1 530.5,733.6 534.5,750.8 538.5,751.2 542.5,744.0 546.5,740.4 550.5,755.4 554.5,756.7 558.5,759.7 562.5,757.4 566.5,754.5 570.5,752.5 574.5,738.2 578.5,726.7 582.5,735.9 586.5,731.1 590.5,728.3 594.5,737.0 598.5,733.3 602.5,729.4 606.5,734.6 610.5,736.0 614.5,736.6 618.5,739.5 622.5,743.8 626.5,735.9 630.5,745.2 634.5,745.9 638.5,739.4 642.5,741.2 646.5,743.1 650.5,740.4 654.5,724.7 658.5,726.7 662.5,723.9 666.5,719.7 670.5,712.7 674.5,712.6 678.5,717.9 682.5,717.3 686.5,722.1 690.5,726.2 694.5,734.0 698.5,730.8 702.5,728.5 706.5,729.0 710.5,730.8 714.5,731.7 718.5,737.1 722.5,725.8 726.5,720.6 730.5,720.1 734.5,724.8 738.5,726.9 742.5,722.4 746.5,720.4 750.5,733.4 754.5,733.9 758.5,738.9 762.5,734.3 766.5,734.0 770.5,730.7 774.5,727.0 778.5,730.5 782.5,739.7 786.5,736.5 790.5,738.6 794.5,729.1 798.5,736.2 802.5,735.9 806.5,730.4 810.5,732.4 814.5,733.6 818.5,730.1 822.5,728.6 826.5,735.3 830.5,722.3 834.5,715.0 838.5,718.3 842.5,721.3 846.5,721.1 850.5,723.2 854.5,734.3 858.5,727.0 862.5,722.9 866.5,728.9 870.5,724.0 874.5,728.2 878.5,724.8 882.5,724.6 886.5,726.3 890.5,733.9 894.5,730.7 898.5,725.1 902.5,728.1 906.5,732.3 910.5,728.2 914.5,732.5 918.5,731.6 922.5,735.9 926.5,739.7 930.5,731.3 934.5,726.9 938.5,734.7 942.5,733.8 946.5,733.5 950.5,724.5 954.5,720.8 958.5,718.3 962.5,721.2 966.5,721.2 970.5,737.5 974.5,745.0 978.5,740.0 982.5,748.6 986.5,757.1 990.5,757.2 994.5,757.7 998.5,754.0 1002.5,743.7 1006.5,744.9 1010.5,730.4 1014.5,731.2 1018.5,729.9 1022.5,737.5 1026.5,749.3 1030.5,757.1 1034.5,752.9 1038.5,753.6 1042.5,755.4 1046.5,755.5 1050.5,760.4 1054.5,762.7 1058.5,763.8 1062.5,760.8 1066.5,752.4 1070.5,756.2 1074.5,759.5 1078.5,760.5 1082.5,753.0 1086.5,753.9 1090.5,748.3 1094.5,744.0 1098.5,750.5 1102.5,751.3 1106.5,755.4 1110.5,754.3 1114.5,751.2 1118.5,743.5 1122.5,747.9 1126.5,750.6 1130.5,751.5" fill="none" stroke="#1e90ff" stroke-width="1" />
</g>
<rect x="6" y="411" width="1416" height="1" fill="#c0c0c0"/>
<rect x="1423" y="406" width="39" height="11" fill="#000"/>
<text x="1427.5" y="415" style="font-size:10px;fill:#fff" textLength="32.20" lengthAdjust="spacingAndGlyphs" >1.30254</text>
<rect x="6" y="187" width="1415" height="3" fill="#ff0000"/>
<rect x="5" y="185" width="7" height="7" fill="#ff0000"/><rect x="8" y="188" width="1" height="1" fill="#fff"/>
<rect x="1415" y="185" width="7" height="7" fill="#ff0000"/><rect x="1418" y="188" width="1" height="1" fill="#fff"/>
<rect x="1423" y="182" width="39" height="11" fill="#ff0000"/>
<text x="1427.5" y="191" style="font-size:10px;fill:#fff" textLength="32.20" lengthAdjust="spacingAndGlyphs" >1.34206</text>
<rect x="6" y="272" width="1415" height="3" fill="#ff0000"/>
<rect x="1423" y="267" width="39" height="11" fill="#ff0000"/>
<text x="1427.5" y="276" style="font-size:10px;fill:#fff" textLength="32.20" lengthAdjust="spacingAndGlyphs" >1.32701</text>
<rect x="6" y="322" width="1415" height="3" fill="#00ff00"/>
<rect x="5" y="320" width="7" height="7" fill="#00ff00"/><rect x="8" y="323" width="1" height="1" fill="#fff"/>
<rect x="1415" y="320" width="7" height="7" fill="#00ff00"/><rect x="1418" y="323" width="1" height="1" fill="#fff"/>
<rect x="1423" y="317" width="39" height="11" fill="#00ff00"/>
<text x="1427.5" y="326" style="font-size:10px;fill:#fff" textLength="32.20" lengthAdjust="spacingAndGlyphs" >1.31801</text>
<rect x="6" y="424" width="1415" height="3" fill="#0000ff"/>
<rect x="5" y="422" width="7" height="7" fill="#0000ff"/><rect x="8" y="425" width="1" height="1" fill="#fff"/>
<rect x="1415" y="422" width="7" height="7" fill="#0000ff"/><rect x="1418" y="425" width="1" height="1" fill="#fff"/>
<rect x="1423" y="419" width="39" height="11" fill="#0000ff"/>
<text x="1427.5" y="428" style="font-size:10px;fill:#fff" textLength="32.20" lengthAdjust="spacingAndGlyphs" >1.30004</text>
<polygon points="1131.5,24 1141.5,24 1136.5,29.5" fill="#c0c0c0" shape-rendering="geometricPrecision"/>
<polygon points="9,34 16,34 12.5,30" fill="#000"/>
<text x="21.2" y="35" style="font-size:9.6px;fill:#000;stroke:#000;stroke-width:0.12px" textLength="68.80" lengthAdjust="spacingAndGlyphs" >USDCAD-,Daily</text>
<text x="96.3" y="35" style="font-size:9.6px;fill:#000;stroke:#000;stroke-width:0.12px" textLength="140.40" lengthAdjust="spacingAndGlyphs" >1.30336 1.30357 1.30254 1.30254</text>
<rect x="1422" y="566" width="2" height="1" fill="#000"/><text x="1425.4" y="575" style="font-size:9.4px;fill:#000;stroke:#000;stroke-width:0.15px" textLength="36.87" lengthAdjust="spacingAndGlyphs" >0.010311</text>
<rect x="1422" y="619" width="2" height="1" fill="#000"/><text x="1425.4" y="623" style="font-size:9.4px;fill:#000;stroke:#000;stroke-width:0.15px" textLength="17.50" lengthAdjust="spacingAndGlyphs" >0.00</text>
<rect x="1422" y="666" width="2" height="1" fill="#000"/><text x="1425" y="664" style="font-size:9.4px;fill:#000;stroke:#000;stroke-width:0.15px" textLength="40.53" lengthAdjust="spacingAndGlyphs" >-0.009203</text>
<text x="10.3" y="577" style="font-size:9.4px;fill:#000;stroke:#000;stroke-width:0.12px" textLength="153.30" lengthAdjust="spacingAndGlyphs" >MACD(12,26,9) -0.005399 -0.006054</text>
<rect x="1422" y="671" width="2" height="1" fill="#000"/><text x="1425.5" y="680" style="font-size:9.4px;fill:#000;stroke:#000;stroke-width:0.15px" textLength="13.80" lengthAdjust="spacingAndGlyphs" >100</text>
<rect x="1422" y="709" width="2" height="1" fill="#000"/><text x="1425.5" y="713" style="font-size:9.4px;fill:#000;stroke:#000;stroke-width:0.15px" textLength="10.01" lengthAdjust="spacingAndGlyphs" >70</text>
<rect x="1422" y="760" width="2" height="1" fill="#000"/><text x="1425.5" y="764" style="font-size:9.4px;fill:#000;stroke:#000;stroke-width:0.15px" textLength="10.01" lengthAdjust="spacingAndGlyphs" >30</text>
<rect x="1422" y="797" width="2" height="1" fill="#000"/><text x="1425.5" y="796" style="font-size:9.4px;fill:#000;stroke:#000;stroke-width:0.15px" textLength="5.00" lengthAdjust="spacingAndGlyphs" >0</text>
<line x1="7" y1="709.5" x2="1421" y2="709.5" stroke="#c0c0c0" stroke-dasharray="3,3"/>
<line x1="7" y1="760.5" x2="1421" y2="760.5" stroke="#c0c0c0" stroke-dasharray="3,3"/>
<text x="10.3" y="682" style="font-size:9.4px;fill:#000;stroke:#000;stroke-width:0.12px" textLength="67.30" lengthAdjust="spacingAndGlyphs" >RSI(14) 35.7713</text>
<rect x="6" y="800" width="1" height="3" fill="#000"/>
<text x="5.3" y="811.8" style="font-size:10px;fill:#000;stroke:#000;stroke-width:0.1px" textLength="52.23" lengthAdjust="spacingAndGlyphs" >24 Aug 2018</text>
<rect x="70" y="800" width="1" height="3" fill="#000"/>
<text x="69.3" y="811.8" style="font-size:10px;fill:#000;stroke:#000;stroke-width:0.1px" textLength="52.74" lengthAdjust="spacingAndGlyphs" >12 Sep 2018</text>
<rect x="134" y="800" width="1" height="3" fill="#000"/>
<text x="133.3" y="811.8" style="font-size:10px;fill:#000;stroke:#000;stroke-width:0.1px" textLength="45.49" lengthAdjust="spacingAndGlyphs" >1 Oct 2018</text>
<rect x="198" y="800" width="1" height="3" fill="#000"/>
<text x="197.3" y="811.8" style="font-size:10px;fill:#000;stroke:#000;stroke-width:0.1px" textLength="50.66" lengthAdjust="spacingAndGlyphs" >19 Oct 2018</text>
<rect x="262" y="800" width="1" height="3" fill="#000"/>
<text x="261.3" y="811.8" style="font-size:10px;fill:#000;stroke:#000;stroke-width:0.1px" textLength="47.56" lengthAdjust="spacingAndGlyphs" >7 Nov 2018</text>
<rect x="326" y="800" width="1" height="3" fill="#000"/>
<text x="325.3" y="811.8" style="font-size:10px;fill:#000;stroke:#000;stroke-width:0.1px" textLength="52.74" lengthAdjust="spacingAndGlyphs" >26 Nov 2018</text>
<rect x="390" y="800" width="1" height="3" fill="#000"/>
<text x="389.3" y="811.8" style="font-size:10px;fill:#000;stroke:#000;stroke-width:0.1px" textLength="52.74" lengthAdjust="spacingAndGlyphs" >14 Dec 2018</text>
<rect x="454" y="800" width="1" height="3" fill="#000"/>
<text x="453.3" y="811.8" style="font-size:10px;fill:#000;stroke:#000;stroke-width:0.1px" textLength="46.02" lengthAdjust="spacingAndGlyphs" >2 Jan 2019</text>
<rect x="518" y="800" width="1" height="3" fill="#000"/>
<text x="517.3" y="811.8" style="font-size:10px;fill:#000;stroke:#000;stroke-width:0.1px" textLength="51.19" lengthAdjust="spacingAndGlyphs" >21 Jan 2019</text>
<rect x="582" y="800" width="1" height="3" fill="#000"/>
<text x="581.3" y="811.8" style="font-size:10px;fill:#000;stroke:#000;stroke-width:0.1px" textLength="47.05" lengthAdjust="spacingAndGlyphs" >8 Feb 2019</text>
<rect x="646" y="800" width="1" height="3" fill="#000"/>
<text x="645.3" y="811.8" style="font-size:10px;fill:#000;stroke:#000;stroke-width:0.1px" textLength="52.22" lengthAdjust="spacingAndGlyphs" >27 Feb 2019</text>
<rect x="710" y="800" width="1" height="3" fill="#000"/>
<text x="709.3" y="811.8" style="font-size:10px;fill:#000;stroke:#000;stroke-width:0.1px" textLength="52.21" lengthAdjust="spacingAndGlyphs" >18 Mar 2019</text>
<rect x="774" y="800" width="1" height="3" fill="#000"/>
<text x="773.3" y="811.8" style="font-size:10px;fill:#000;stroke:#000;stroke-width:0.1px" textLength="44.98" lengthAdjust="spacingAndGlyphs" >5 Apr 2019</text>
<rect x="838" y="800" width="1" height="3" fill="#000"/>
<text x="837.3" y="811.8" style="font-size:10px;fill:#000;stroke:#000;stroke-width:0.1px" textLength="50.16" lengthAdjust="spacingAndGlyphs" >25 Apr 2019</text>
<rect x="902" y="800" width="1" height="3" fill="#000"/>
<text x="901.3" y="811.8" style="font-size:10px;fill:#000;stroke:#000;stroke-width:0.1px" textLength="53.77" lengthAdjust="spacingAndGlyphs" >14 May 2019</text>
<rect x="966" y="800" width="1" height="3" fill="#000"/>
<text x="965.3" y="811.8" style="font-size:10px;fill:#000;stroke:#000;stroke-width:0.1px" textLength="46.02" lengthAdjust="spacingAndGlyphs" >2 Jun 2019</text>
<rect x="1030" y="800" width="1" height="3" fill="#000"/>
<text x="1029.3" y="811.8" style="font-size:10px;fill:#000;stroke:#000;stroke-width:0.1px" textLength="51.19" lengthAdjust="spacingAndGlyphs" >20 Jun 2019</text>
<rect x="1094" y="800" width="1" height="3" fill="#000"/>
<text x="1093.3" y="811.8" style="font-size:10px;fill:#000;stroke:#000;stroke-width:0.1px" textLength="42.91" lengthAdjust="spacingAndGlyphs" >9 Jul 2019</text>
<rect x="0" y="820" width="1462" height="1" fill="#e3e3e3"/>
<rect x="0" y="821" width="1462" height="20" fill="#f0f0f0"/>
<rect x="0" y="822" width="1462" height="1" fill="#000"/>
<rect x="331" y="822" width="108" height="19" fill="#fff"/>
<rect x="331" y="822" width="1" height="19" fill="#000"/><rect x="438" y="822" width="1" height="19" fill="#000"/><rect x="331" y="839" width="108" height="2" fill="#000"/>
<text x="17.8" y="836.6" style="font-size:12px;fill:#6d6d6d" textLength="84.80" lengthAdjust="spacingAndGlyphs" >EURUSD-,Daily</text>
<rect x="115" y="826" width="1" height="13" fill="#6d6d6d"/>
<text x="124.8" y="836.6" style="font-size:12px;fill:#6d6d6d" textLength="87.20" lengthAdjust="spacingAndGlyphs" >AUDUSD-,Daily</text>
<rect x="223" y="826" width="1" height="13" fill="#6d6d6d"/>
<text x="235.3" y="836.6" style="font-size:12px;fill:#6d6d6d" textLength="83.40" lengthAdjust="spacingAndGlyphs" >USDCHF-,Daily</text>
<text x="342" y="836.6" style="font-size:12px;fill:#000" textLength="85.50" lengthAdjust="spacingAndGlyphs" >USDCAD-,Daily</text>
<text x="451.4" y="836.6" style="font-size:12px;fill:#6d6d6d" textLength="87.40" lengthAdjust="spacingAndGlyphs" >USDCNH-,Daily</text>
<rect x="551" y="826" width="1" height="13" fill="#6d6d6d"/>
<text x="562" y="836.6" style="font-size:12px;fill:#6d6d6d" textLength="96.50" lengthAdjust="spacingAndGlyphs" >EURCHF-,Weekly</text>
<rect x="671" y="826" width="1" height="13" fill="#6d6d6d"/>
<text x="682.8" y="836.6" style="font-size:12px;fill:#6d6d6d" textLength="83.80" lengthAdjust="spacingAndGlyphs" >XAUUSD-,M15</text>
<rect x="779" y="826" width="1" height="13" fill="#6d6d6d"/>
<text x="789.5" y="836.6" style="font-size:12px;fill:#6d6d6d" textLength="72.80" lengthAdjust="spacingAndGlyphs" >GBPUSD-,H1</text>
<rect x="875" y="826" width="1" height="13" fill="#6d6d6d"/>
<text x="886.3" y="836.6" style="font-size:12px;fill:#6d6d6d" textLength="56.10" lengthAdjust="spacingAndGlyphs" >UKOil-,H1</text>
<rect x="955" y="826" width="1" height="13" fill="#6d6d6d"/>
<polygon points="1440,827 1440,835 1436,831" fill="#b0b0b0"/>
<polygon points="1456,827 1456,835 1460,831" fill="#b0b0b0"/>
<rect x="61" y="43" width="115" height="24" fill="#fff"/>
<rect x="63.5" y="43.5" width="110" height="21" fill="#fff" stroke="#adadad"/>
<rect x="64" y="44" width="20" height="20" fill="url(#gbtn)"/><rect x="84" y="44" width="1" height="20" fill="#adadad"/>
<rect x="153" y="44" width="20" height="20" fill="url(#gbtn)"/><rect x="152" y="44" width="1" height="20" fill="#adadad"/>
<rect x="71" y="52" width="6" height="1" fill="#5a6fc0"/><rect x="72" y="53" width="4" height="1" fill="#5a6fc0"/><rect x="73" y="54" width="2" height="1" fill="#5a6fc0"/>
<rect x="160" y="54" width="6" height="1" fill="#5a6fc0"/><rect x="161" y="53" width="4" height="1" fill="#5a6fc0"/><rect x="162" y="52" width="2" height="1" fill="#5a6fc0"/>
<text x="125.8" y="58" style="font-size:12.5px;fill:#000" textLength="22.80" lengthAdjust="spacingAndGlyphs" >1.00</text>
<rect x="9" y="43" width="52" height="24" fill="url(#gsell)"/>
<rect x="176" y="43" width="52" height="24" fill="url(#gsell)"/>
<rect x="9" y="67" width="109" height="40" fill="url(#gbig)"/>
<rect x="120" y="67" width="108" height="40" fill="url(#gbig)"/>
<rect x="13" y="66" width="44" height="1" fill="#a00000"/>
<rect x="180" y="66" width="44" height="1" fill="#a00000"/>
<text x="21.4" y="59" style="font-size:12.3px;fill:#fff" textLength="25.60" lengthAdjust="spacingAndGlyphs" >SELL</text>
<text x="189.6" y="59" style="font-size:12.3px;fill:#fff" textLength="22.50" lengthAdjust="spacingAndGlyphs" >BUY</text>
<text x="29.5" y="97.5" style="font-size:12px;fill:#fff;font-weight:bold" textLength="23.50" lengthAdjust="spacingAndGlyphs" >1.30</text>
<text x="57.8" y="98" style="font-size:33.5px;fill:#fff" textLength="32.20" lengthAdjust="spacingAndGlyphs" >25</text>
<text x="95.8" y="82" style="font-size:11px;fill:#fff;font-weight:bold" textLength="7.20" lengthAdjust="spacingAndGlyphs" >4</text>
<text x="139.8" y="97.5" style="font-size:12px;fill:#fff;font-weight:bold" textLength="23.50" lengthAdjust="spacingAndGlyphs" >1.30</text>
<text x="168.8" y="98" style="font-size:33.5px;fill:#fff" textLength="30.90" lengthAdjust="spacingAndGlyphs" >27</text>
<text x="206" y="82" style="font-size:11px;fill:#fff;font-weight:bold" textLength="7.20" lengthAdjust="spacingAndGlyphs" >4</text>
</svg>
</body></html>
